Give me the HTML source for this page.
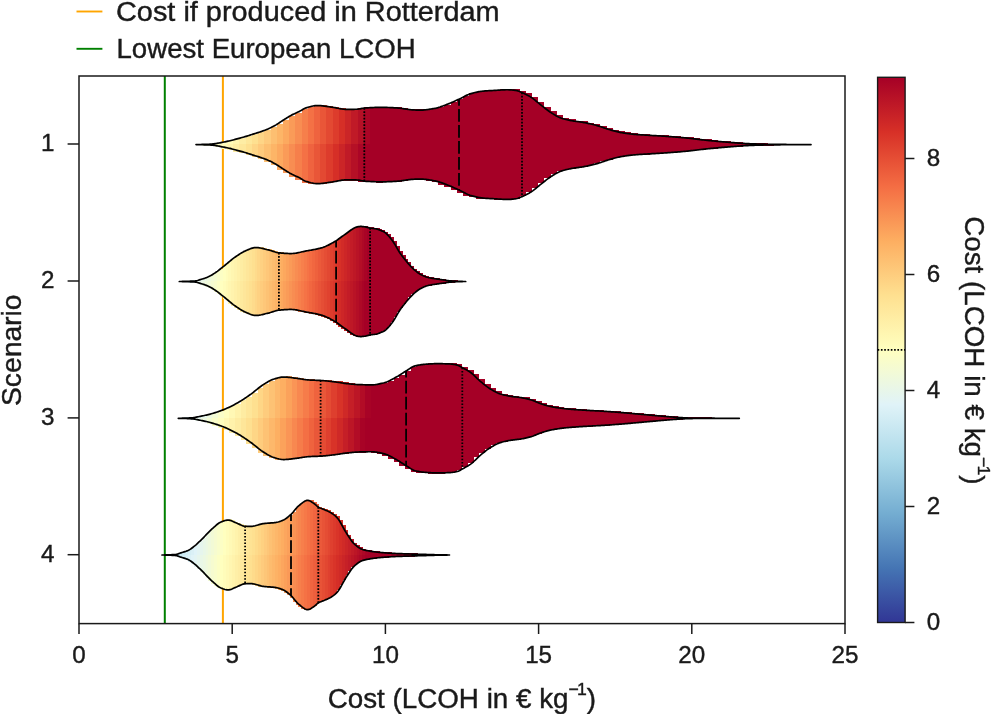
<!DOCTYPE html>
<html lang="en"><head><meta charset="utf-8"><title>LCOH violin plot</title>
<style>html,body{margin:0;padding:0;background:#fff}svg{display:block}text{font-family:"Liberation Sans",Arial,sans-serif;fill:#1a1a1a}text{stroke:#1a1a1a;stroke-width:.4px}.lab{font-size:26.8px}.tk{font-size:24.2px}</style></head><body>
<svg width="991" height="714" viewBox="0 0 991 714">
<rect width="991" height="714" fill="#fff"/>
<defs><linearGradient id="cb" x1="0" y1="1" x2="0" y2="0">
<stop offset="0%" stop-color="#313695"/>
<stop offset="10%" stop-color="#4575b4"/>
<stop offset="20%" stop-color="#74add1"/>
<stop offset="30%" stop-color="#abd9e9"/>
<stop offset="40%" stop-color="#e0f3f8"/>
<stop offset="50%" stop-color="#ffffbf"/>
<stop offset="60%" stop-color="#fee090"/>
<stop offset="70%" stop-color="#fdae61"/>
<stop offset="80%" stop-color="#f46d43"/>
<stop offset="90%" stop-color="#d73027"/>
<stop offset="100%" stop-color="#a50026"/>
</linearGradient></defs>
<line x1="222.9" y1="76.0" x2="222.9" y2="623.6" stroke="#ffa500" stroke-width="2"/>
<line x1="164.8" y1="76.0" x2="164.8" y2="623.6" stroke="#008000" stroke-width="2"/>
<g shape-rendering="crispEdges">
<rect x="202.21" y="143.75" width="6.81" height="0.25" fill="#e9f6e8"/>
<rect x="208.42" y="143.57" width="6.81" height="0.43" fill="#eff9dc"/>
<rect x="214.64" y="143.02" width="6.81" height="0.98" fill="#f6fcd0"/>
<rect x="220.85" y="141.94" width="6.81" height="2.06" fill="#fdfec3"/>
<rect x="227.06" y="140.70" width="6.81" height="3.30" fill="#fffbb8"/>
<rect x="233.27" y="139.21" width="6.81" height="4.79" fill="#fff4ae"/>
<rect x="239.48" y="137.51" width="6.81" height="6.49" fill="#feeda4"/>
<rect x="245.70" y="135.78" width="6.81" height="8.22" fill="#fee79a"/>
<rect x="251.91" y="133.78" width="6.81" height="10.22" fill="#fee090"/>
<rect x="258.12" y="131.84" width="6.81" height="12.16" fill="#fed586"/>
<rect x="264.33" y="129.73" width="6.81" height="14.27" fill="#feca7c"/>
<rect x="270.55" y="127.12" width="6.81" height="16.88" fill="#fdbf71"/>
<rect x="276.76" y="123.72" width="6.81" height="20.28" fill="#fdb567"/>
<rect x="282.97" y="119.64" width="6.81" height="24.36" fill="#fca95f"/>
<rect x="289.18" y="115.75" width="6.81" height="28.25" fill="#fa9b58"/>
<rect x="295.39" y="112.58" width="6.81" height="31.42" fill="#f88d52"/>
<rect x="301.61" y="109.46" width="6.81" height="34.54" fill="#f67f4b"/>
<rect x="307.82" y="106.63" width="6.81" height="37.37" fill="#f47145"/>
<rect x="314.03" y="105.13" width="6.81" height="38.87" fill="#ef633f"/>
<rect x="320.24" y="104.95" width="6.81" height="39.05" fill="#e95638"/>
<rect x="326.45" y="105.68" width="6.81" height="38.32" fill="#e34932"/>
<rect x="332.67" y="106.57" width="6.81" height="37.43" fill="#dd3c2c"/>
<rect x="338.88" y="107.75" width="6.81" height="36.25" fill="#d62f27"/>
<rect x="345.09" y="108.61" width="6.81" height="35.39" fill="#cb2527"/>
<rect x="351.30" y="108.62" width="6.81" height="35.38" fill="#c01a27"/>
<rect x="357.52" y="108.47" width="6.81" height="35.53" fill="#b51026"/>
<rect x="363.73" y="107.44" width="6.81" height="36.56" fill="#ab0526"/>
<rect x="369.94" y="107.00" width="6.81" height="37.00" fill="#a50026"/>
<rect x="376.15" y="106.74" width="6.81" height="37.26" fill="#a50026"/>
<rect x="382.36" y="106.65" width="6.81" height="37.35" fill="#a50026"/>
<rect x="388.58" y="106.80" width="6.81" height="37.20" fill="#a50026"/>
<rect x="394.79" y="107.12" width="6.81" height="36.88" fill="#a50026"/>
<rect x="401.00" y="107.66" width="6.81" height="36.34" fill="#a50026"/>
<rect x="407.21" y="108.59" width="6.81" height="35.41" fill="#a50026"/>
<rect x="413.42" y="109.20" width="6.81" height="34.80" fill="#a50026"/>
<rect x="419.64" y="109.45" width="6.81" height="34.55" fill="#a50026"/>
<rect x="425.85" y="109.08" width="6.81" height="34.92" fill="#a50026"/>
<rect x="432.06" y="108.13" width="6.81" height="35.87" fill="#a50026"/>
<rect x="438.27" y="106.83" width="6.81" height="37.17" fill="#a50026"/>
<rect x="444.48" y="104.68" width="6.81" height="39.32" fill="#a50026"/>
<rect x="450.70" y="102.24" width="6.81" height="41.76" fill="#a50026"/>
<rect x="456.91" y="99.44" width="6.81" height="44.56" fill="#a50026"/>
<rect x="463.12" y="96.41" width="6.81" height="47.59" fill="#a50026"/>
<rect x="469.33" y="93.45" width="6.81" height="50.55" fill="#a50026"/>
<rect x="475.55" y="91.72" width="6.81" height="52.28" fill="#a50026"/>
<rect x="481.76" y="90.57" width="6.81" height="53.43" fill="#a50026"/>
<rect x="487.97" y="90.06" width="6.81" height="53.94" fill="#a50026"/>
<rect x="494.18" y="89.73" width="6.81" height="54.27" fill="#a50026"/>
<rect x="500.39" y="89.33" width="6.81" height="54.67" fill="#a50026"/>
<rect x="506.61" y="89.05" width="6.81" height="54.95" fill="#a50026"/>
<rect x="512.82" y="89.38" width="6.81" height="54.62" fill="#a50026"/>
<rect x="519.03" y="90.63" width="6.81" height="53.37" fill="#a50026"/>
<rect x="525.24" y="93.36" width="6.81" height="50.64" fill="#a50026"/>
<rect x="531.45" y="96.84" width="6.81" height="47.16" fill="#a50026"/>
<rect x="537.67" y="101.66" width="6.81" height="42.34" fill="#a50026"/>
<rect x="543.88" y="106.63" width="6.81" height="37.37" fill="#a50026"/>
<rect x="550.09" y="111.33" width="6.81" height="32.67" fill="#a50026"/>
<rect x="556.30" y="115.14" width="6.81" height="28.86" fill="#a50026"/>
<rect x="562.52" y="117.84" width="6.81" height="26.16" fill="#a50026"/>
<rect x="568.73" y="119.42" width="6.81" height="24.58" fill="#a50026"/>
<rect x="574.94" y="120.53" width="6.81" height="23.47" fill="#a50026"/>
<rect x="581.15" y="121.39" width="6.81" height="22.61" fill="#a50026"/>
<rect x="587.36" y="122.51" width="6.81" height="21.49" fill="#a50026"/>
<rect x="593.58" y="123.96" width="6.81" height="20.04" fill="#a50026"/>
<rect x="599.79" y="125.71" width="6.81" height="18.29" fill="#a50026"/>
<rect x="606.00" y="127.85" width="6.81" height="16.15" fill="#a50026"/>
<rect x="612.21" y="129.70" width="6.81" height="14.30" fill="#a50026"/>
<rect x="618.42" y="131.32" width="6.81" height="12.68" fill="#a50026"/>
<rect x="624.64" y="132.46" width="6.81" height="11.54" fill="#a50026"/>
<rect x="630.85" y="133.28" width="6.81" height="10.72" fill="#a50026"/>
<rect x="637.06" y="133.86" width="6.81" height="10.14" fill="#a50026"/>
<rect x="643.27" y="134.26" width="6.81" height="9.74" fill="#a50026"/>
<rect x="649.48" y="134.63" width="6.81" height="9.37" fill="#a50026"/>
<rect x="655.70" y="134.99" width="6.81" height="9.01" fill="#a50026"/>
<rect x="661.91" y="135.36" width="6.81" height="8.64" fill="#a50026"/>
<rect x="668.12" y="135.79" width="6.81" height="8.21" fill="#a50026"/>
<rect x="674.33" y="136.25" width="6.81" height="7.75" fill="#a50026"/>
<rect x="680.55" y="136.76" width="6.81" height="7.24" fill="#a50026"/>
<rect x="686.76" y="137.33" width="6.81" height="6.67" fill="#a50026"/>
<rect x="692.97" y="138.02" width="6.81" height="5.98" fill="#a50026"/>
<rect x="699.18" y="138.76" width="6.81" height="5.24" fill="#a50026"/>
<rect x="705.39" y="139.47" width="6.81" height="4.53" fill="#a50026"/>
<rect x="711.61" y="140.09" width="6.81" height="3.91" fill="#a50026"/>
<rect x="717.82" y="140.68" width="6.81" height="3.32" fill="#a50026"/>
<rect x="724.03" y="141.23" width="6.81" height="2.77" fill="#a50026"/>
<rect x="730.24" y="141.72" width="6.81" height="2.28" fill="#a50026"/>
<rect x="736.45" y="142.21" width="6.81" height="1.79" fill="#a50026"/>
<rect x="742.67" y="142.66" width="6.81" height="1.34" fill="#a50026"/>
<rect x="748.88" y="143.01" width="6.81" height="0.99" fill="#a50026"/>
<rect x="755.09" y="143.24" width="6.81" height="0.76" fill="#a50026"/>
<rect x="761.30" y="143.42" width="6.81" height="0.58" fill="#a50026"/>
<rect x="767.52" y="143.56" width="6.81" height="0.44" fill="#a50026"/>
<rect x="773.73" y="143.66" width="6.81" height="0.34" fill="#a50026"/>
<rect x="779.94" y="143.72" width="6.81" height="0.28" fill="#a50026"/>
<rect x="786.15" y="143.77" width="6.81" height="0.23" fill="#a50026"/>
<rect x="792.36" y="143.81" width="6.81" height="0.19" fill="#a50026"/>
<rect x="196.00" y="144.00" width="6.81" height="1.45" fill="#e9f6e8"/>
<rect x="202.21" y="144.00" width="6.81" height="1.63" fill="#eff9dc"/>
<rect x="208.42" y="144.00" width="6.81" height="2.18" fill="#f6fcd0"/>
<rect x="214.64" y="144.00" width="6.81" height="3.26" fill="#fdfec3"/>
<rect x="220.85" y="144.00" width="6.81" height="4.50" fill="#fffbb8"/>
<rect x="227.06" y="144.00" width="6.81" height="5.99" fill="#fff4ae"/>
<rect x="233.27" y="144.00" width="6.81" height="7.69" fill="#feeda4"/>
<rect x="239.48" y="144.00" width="6.81" height="9.42" fill="#fee79a"/>
<rect x="245.70" y="144.00" width="6.81" height="11.42" fill="#fee090"/>
<rect x="251.91" y="144.00" width="6.81" height="13.36" fill="#fed586"/>
<rect x="258.12" y="144.00" width="6.81" height="15.47" fill="#feca7c"/>
<rect x="264.33" y="144.00" width="6.81" height="18.08" fill="#fdbf71"/>
<rect x="270.55" y="144.00" width="6.81" height="21.48" fill="#fdb567"/>
<rect x="276.76" y="144.00" width="6.81" height="25.56" fill="#fca95f"/>
<rect x="282.97" y="144.00" width="6.81" height="29.45" fill="#fa9b58"/>
<rect x="289.18" y="144.00" width="6.81" height="32.62" fill="#f88d52"/>
<rect x="295.39" y="144.00" width="6.81" height="35.74" fill="#f67f4b"/>
<rect x="301.61" y="144.00" width="6.81" height="38.57" fill="#f47145"/>
<rect x="307.82" y="144.00" width="6.81" height="40.07" fill="#ef633f"/>
<rect x="314.03" y="144.00" width="6.81" height="40.25" fill="#e95638"/>
<rect x="320.24" y="144.00" width="6.81" height="39.52" fill="#e34932"/>
<rect x="326.45" y="144.00" width="6.81" height="38.63" fill="#dd3c2c"/>
<rect x="332.67" y="144.00" width="6.81" height="37.45" fill="#d62f27"/>
<rect x="338.88" y="144.00" width="6.81" height="36.59" fill="#cb2527"/>
<rect x="345.09" y="144.00" width="6.81" height="36.58" fill="#c01a27"/>
<rect x="351.30" y="144.00" width="6.81" height="36.73" fill="#b51026"/>
<rect x="357.52" y="144.00" width="6.81" height="37.76" fill="#ab0526"/>
<rect x="363.73" y="144.00" width="6.81" height="38.20" fill="#a50026"/>
<rect x="369.94" y="144.00" width="6.81" height="38.46" fill="#a50026"/>
<rect x="376.15" y="144.00" width="6.81" height="38.55" fill="#a50026"/>
<rect x="382.36" y="144.00" width="6.81" height="38.40" fill="#a50026"/>
<rect x="388.58" y="144.00" width="6.81" height="38.08" fill="#a50026"/>
<rect x="394.79" y="144.00" width="6.81" height="37.54" fill="#a50026"/>
<rect x="401.00" y="144.00" width="6.81" height="36.61" fill="#a50026"/>
<rect x="407.21" y="144.00" width="6.81" height="36.00" fill="#a50026"/>
<rect x="413.42" y="144.00" width="6.81" height="35.75" fill="#a50026"/>
<rect x="419.64" y="144.00" width="6.81" height="36.12" fill="#a50026"/>
<rect x="425.85" y="144.00" width="6.81" height="37.07" fill="#a50026"/>
<rect x="432.06" y="144.00" width="6.81" height="38.37" fill="#a50026"/>
<rect x="438.27" y="144.00" width="6.81" height="40.52" fill="#a50026"/>
<rect x="444.48" y="144.00" width="6.81" height="42.96" fill="#a50026"/>
<rect x="450.70" y="144.00" width="6.81" height="45.76" fill="#a50026"/>
<rect x="456.91" y="144.00" width="6.81" height="48.79" fill="#a50026"/>
<rect x="463.12" y="144.00" width="6.81" height="51.75" fill="#a50026"/>
<rect x="469.33" y="144.00" width="6.81" height="53.48" fill="#a50026"/>
<rect x="475.55" y="144.00" width="6.81" height="54.63" fill="#a50026"/>
<rect x="481.76" y="144.00" width="6.81" height="55.14" fill="#a50026"/>
<rect x="487.97" y="144.00" width="6.81" height="55.47" fill="#a50026"/>
<rect x="494.18" y="144.00" width="6.81" height="55.87" fill="#a50026"/>
<rect x="500.39" y="144.00" width="6.81" height="56.15" fill="#a50026"/>
<rect x="506.61" y="144.00" width="6.81" height="55.82" fill="#a50026"/>
<rect x="512.82" y="144.00" width="6.81" height="54.57" fill="#a50026"/>
<rect x="519.03" y="144.00" width="6.81" height="51.84" fill="#a50026"/>
<rect x="525.24" y="144.00" width="6.81" height="48.36" fill="#a50026"/>
<rect x="531.45" y="144.00" width="6.81" height="43.54" fill="#a50026"/>
<rect x="537.67" y="144.00" width="6.81" height="38.57" fill="#a50026"/>
<rect x="543.88" y="144.00" width="6.81" height="33.87" fill="#a50026"/>
<rect x="550.09" y="144.00" width="6.81" height="30.06" fill="#a50026"/>
<rect x="556.30" y="144.00" width="6.81" height="27.36" fill="#a50026"/>
<rect x="562.52" y="144.00" width="6.81" height="25.78" fill="#a50026"/>
<rect x="568.73" y="144.00" width="6.81" height="24.67" fill="#a50026"/>
<rect x="574.94" y="144.00" width="6.81" height="23.81" fill="#a50026"/>
<rect x="581.15" y="144.00" width="6.81" height="22.69" fill="#a50026"/>
<rect x="587.36" y="144.00" width="6.81" height="21.24" fill="#a50026"/>
<rect x="593.58" y="144.00" width="6.81" height="19.49" fill="#a50026"/>
<rect x="599.79" y="144.00" width="6.81" height="17.35" fill="#a50026"/>
<rect x="606.00" y="144.00" width="6.81" height="15.50" fill="#a50026"/>
<rect x="612.21" y="144.00" width="6.81" height="13.88" fill="#a50026"/>
<rect x="618.42" y="144.00" width="6.81" height="12.74" fill="#a50026"/>
<rect x="624.64" y="144.00" width="6.81" height="11.92" fill="#a50026"/>
<rect x="630.85" y="144.00" width="6.81" height="11.34" fill="#a50026"/>
<rect x="637.06" y="144.00" width="6.81" height="10.94" fill="#a50026"/>
<rect x="643.27" y="144.00" width="6.81" height="10.57" fill="#a50026"/>
<rect x="649.48" y="144.00" width="6.81" height="10.21" fill="#a50026"/>
<rect x="655.70" y="144.00" width="6.81" height="9.84" fill="#a50026"/>
<rect x="661.91" y="144.00" width="6.81" height="9.41" fill="#a50026"/>
<rect x="668.12" y="144.00" width="6.81" height="8.95" fill="#a50026"/>
<rect x="674.33" y="144.00" width="6.81" height="8.44" fill="#a50026"/>
<rect x="680.55" y="144.00" width="6.81" height="7.87" fill="#a50026"/>
<rect x="686.76" y="144.00" width="6.81" height="7.18" fill="#a50026"/>
<rect x="692.97" y="144.00" width="6.81" height="6.44" fill="#a50026"/>
<rect x="699.18" y="144.00" width="6.81" height="5.73" fill="#a50026"/>
<rect x="705.39" y="144.00" width="6.81" height="5.11" fill="#a50026"/>
<rect x="711.61" y="144.00" width="6.81" height="4.52" fill="#a50026"/>
<rect x="717.82" y="144.00" width="6.81" height="3.97" fill="#a50026"/>
<rect x="724.03" y="144.00" width="6.81" height="3.48" fill="#a50026"/>
<rect x="730.24" y="144.00" width="6.81" height="2.99" fill="#a50026"/>
<rect x="736.45" y="144.00" width="6.81" height="2.54" fill="#a50026"/>
<rect x="742.67" y="144.00" width="6.81" height="2.19" fill="#a50026"/>
<rect x="748.88" y="144.00" width="6.81" height="1.96" fill="#a50026"/>
<rect x="755.09" y="144.00" width="6.81" height="1.78" fill="#a50026"/>
<rect x="761.30" y="144.00" width="6.81" height="1.64" fill="#a50026"/>
<rect x="767.52" y="144.00" width="6.81" height="1.54" fill="#a50026"/>
<rect x="773.73" y="144.00" width="6.81" height="1.48" fill="#a50026"/>
<rect x="779.94" y="144.00" width="6.81" height="1.43" fill="#a50026"/>
<rect x="786.15" y="144.00" width="6.81" height="1.39" fill="#a50026"/>
</g>
<path d="M196.0,144.60 197.0,144.58 198.0,144.56 199.0,144.53 200.0,144.51 201.0,144.48 202.0,144.46 203.0,144.43 204.0,144.40 205.0,144.37 206.0,144.35 207.0,144.32 208.0,144.29 209.0,144.25 210.0,144.20 211.0,144.13 212.0,144.04 213.0,143.92 214.0,143.80 215.0,143.67 216.0,143.52 217.0,143.35 218.0,143.18 219.0,142.99 220.0,142.80 221.0,142.61 222.0,142.41 223.0,142.22 224.0,142.03 225.0,141.83 226.0,141.63 227.0,141.42 228.0,141.20 229.0,140.98 230.0,140.75 231.0,140.51 232.0,140.25 233.0,139.98 234.0,139.71 235.0,139.43 236.0,139.15 237.0,138.88 238.0,138.60 239.0,138.34 240.0,138.07 241.0,137.80 242.0,137.53 243.0,137.26 244.0,136.98 245.0,136.69 246.0,136.39 247.0,136.08 248.0,135.76 249.0,135.44 250.0,135.11 251.0,134.78 252.0,134.45 253.0,134.13 254.0,133.82 255.0,133.51 256.0,133.20 257.0,132.89 258.0,132.58 259.0,132.27 260.0,131.94 261.0,131.60 262.0,131.26 263.0,130.91 264.0,130.55 265.0,130.18 266.0,129.80 267.0,129.41 268.0,128.99 269.0,128.55 270.0,128.09 271.0,127.60 272.0,127.08 273.0,126.55 274.0,126.00 275.0,125.44 276.0,124.87 277.0,124.27 278.0,123.65 279.0,123.00 280.0,122.33 281.0,121.66 282.0,120.98 283.0,120.33 284.0,119.69 285.0,119.06 286.0,118.42 287.0,117.79 288.0,117.17 289.0,116.56 290.0,115.97 291.0,115.41 292.0,114.87 293.0,114.38 294.0,113.91 295.0,113.45 296.0,113.01 297.0,112.56 298.0,112.10 299.0,111.62 300.0,111.11 301.0,110.53 302.0,109.92 303.0,109.31 304.0,108.75 305.0,108.26 306.0,107.87 307.0,107.57 308.0,107.27 309.0,106.98 310.0,106.71 311.0,106.45 312.0,106.22 313.0,106.01 314.0,105.84 315.0,105.70 316.0,105.61 317.0,105.56 318.0,105.55 319.0,105.58 320.0,105.63 321.0,105.71 322.0,105.80 323.0,105.91 324.0,106.04 325.0,106.17 326.0,106.32 327.0,106.46 328.0,106.61 329.0,106.76 330.0,106.90 331.0,107.04 332.0,107.17 333.0,107.32 334.0,107.49 335.0,107.68 336.0,107.87 337.0,108.07 338.0,108.27 339.0,108.47 340.0,108.66 341.0,108.83 342.0,108.99 343.0,109.12 344.0,109.23 345.0,109.30 346.0,109.34 347.0,109.35 348.0,109.35 349.0,109.34 350.0,109.33 351.0,109.32 352.0,109.31 353.0,109.29 354.0,109.28 355.0,109.26 356.0,109.24 357.0,109.21 358.0,109.12 359.0,108.99 360.0,108.82 361.0,108.63 362.0,108.44 363.0,108.26 364.0,108.10 365.0,107.99 366.0,107.92 367.0,107.86 368.0,107.80 369.0,107.75 370.0,107.69 371.0,107.64 372.0,107.59 373.0,107.55 374.0,107.51 375.0,107.47 376.0,107.44 377.0,107.41 378.0,107.39 379.0,107.37 380.0,107.36 381.0,107.35 382.0,107.35 383.0,107.36 384.0,107.37 385.0,107.39 386.0,107.41 387.0,107.44 388.0,107.48 389.0,107.52 390.0,107.56 391.0,107.61 392.0,107.66 393.0,107.72 394.0,107.78 395.0,107.83 396.0,107.89 397.0,107.95 398.0,108.03 399.0,108.12 400.0,108.23 401.0,108.36 402.0,108.50 403.0,108.65 404.0,108.80 405.0,108.96 406.0,109.11 407.0,109.26 408.0,109.40 409.0,109.53 410.0,109.64 411.0,109.74 412.0,109.81 413.0,109.87 414.0,109.93 415.0,109.99 416.0,110.04 417.0,110.08 418.0,110.12 419.0,110.14 420.0,110.15 421.0,110.14 422.0,110.10 423.0,110.05 424.0,109.97 425.0,109.87 426.0,109.76 427.0,109.64 428.0,109.50 429.0,109.35 430.0,109.19 431.0,109.02 432.0,108.84 433.0,108.66 434.0,108.48 435.0,108.30 436.0,108.10 437.0,107.87 438.0,107.61 439.0,107.31 440.0,107.00 441.0,106.66 442.0,106.31 443.0,105.94 444.0,105.56 445.0,105.18 446.0,104.79 447.0,104.41 448.0,104.03 449.0,103.64 450.0,103.23 451.0,102.81 452.0,102.38 453.0,101.93 454.0,101.48 455.0,101.02 456.0,100.56 457.0,100.10 458.0,99.64 459.0,99.18 460.0,98.71 461.0,98.22 462.0,97.70 463.0,97.17 464.0,96.64 465.0,96.12 466.0,95.61 467.0,95.13 468.0,94.68 469.0,94.28 470.0,93.92 471.0,93.62 472.0,93.34 473.0,93.07 474.0,92.80 475.0,92.55 476.0,92.31 477.0,92.09 478.0,91.88 479.0,91.69 480.0,91.52 481.0,91.37 482.0,91.24 483.0,91.13 484.0,91.04 485.0,90.96 486.0,90.88 487.0,90.82 488.0,90.75 489.0,90.70 490.0,90.64 491.0,90.59 492.0,90.54 493.0,90.49 494.0,90.44 495.0,90.39 496.0,90.33 497.0,90.27 498.0,90.20 499.0,90.13 500.0,90.06 501.0,89.99 502.0,89.93 503.0,89.87 504.0,89.82 505.0,89.78 506.0,89.76 507.0,89.75 508.0,89.76 509.0,89.79 510.0,89.84 511.0,89.91 512.0,90.00 513.0,90.10 514.0,90.21 515.0,90.33 516.0,90.46 517.0,90.66 518.0,90.95 519.0,91.32 520.0,91.73 521.0,92.16 522.0,92.60 523.0,93.02 524.0,93.47 525.0,93.94 526.0,94.43 527.0,94.95 528.0,95.49 529.0,96.05 530.0,96.64 531.0,97.25 532.0,97.90 533.0,98.61 534.0,99.37 535.0,100.16 536.0,100.97 537.0,101.81 538.0,102.64 539.0,103.47 540.0,104.29 541.0,105.07 542.0,105.85 543.0,106.63 544.0,107.43 545.0,108.22 546.0,109.01 547.0,109.79 548.0,110.54 549.0,111.27 550.0,111.97 551.0,112.62 552.0,113.25 553.0,113.87 554.0,114.49 555.0,115.09 556.0,115.67 557.0,116.22 558.0,116.74 559.0,117.23 560.0,117.66 561.0,118.05 562.0,118.38 563.0,118.69 564.0,118.98 565.0,119.25 566.0,119.50 567.0,119.74 568.0,119.96 569.0,120.18 570.0,120.38 571.0,120.57 572.0,120.76 573.0,120.93 574.0,121.09 575.0,121.24 576.0,121.38 577.0,121.52 578.0,121.65 579.0,121.78 580.0,121.92 581.0,122.06 582.0,122.21 583.0,122.38 584.0,122.55 585.0,122.74 586.0,122.93 587.0,123.14 588.0,123.35 589.0,123.57 590.0,123.79 591.0,124.03 592.0,124.27 593.0,124.51 594.0,124.77 595.0,125.03 596.0,125.29 597.0,125.56 598.0,125.85 599.0,126.16 600.0,126.48 601.0,126.82 602.0,127.17 603.0,127.51 604.0,127.86 605.0,128.21 606.0,128.55 607.0,128.88 608.0,129.20 609.0,129.49 610.0,129.78 611.0,130.06 612.0,130.34 613.0,130.62 614.0,130.90 615.0,131.17 616.0,131.43 617.0,131.68 618.0,131.92 619.0,132.15 620.0,132.36 621.0,132.55 622.0,132.73 623.0,132.90 624.0,133.06 625.0,133.21 626.0,133.36 627.0,133.50 628.0,133.64 629.0,133.77 630.0,133.89 631.0,134.00 632.0,134.11 633.0,134.21 634.0,134.30 635.0,134.39 636.0,134.47 637.0,134.55 638.0,134.62 639.0,134.69 640.0,134.76 641.0,134.82 642.0,134.88 643.0,134.94 644.0,135.00 645.0,135.06 646.0,135.12 647.0,135.18 648.0,135.24 649.0,135.30 650.0,135.36 651.0,135.42 652.0,135.48 653.0,135.53 654.0,135.59 655.0,135.65 656.0,135.70 657.0,135.76 658.0,135.82 659.0,135.88 660.0,135.94 661.0,136.00 662.0,136.07 663.0,136.14 664.0,136.20 665.0,136.27 666.0,136.34 667.0,136.41 668.0,136.48 669.0,136.55 670.0,136.63 671.0,136.70 672.0,136.77 673.0,136.85 674.0,136.93 675.0,137.00 676.0,137.08 677.0,137.16 678.0,137.25 679.0,137.33 680.0,137.41 681.0,137.50 682.0,137.59 683.0,137.68 684.0,137.77 685.0,137.86 686.0,137.95 687.0,138.05 688.0,138.16 689.0,138.27 690.0,138.38 691.0,138.49 692.0,138.61 693.0,138.72 694.0,138.84 695.0,138.96 696.0,139.08 697.0,139.20 698.0,139.32 699.0,139.44 700.0,139.56 701.0,139.68 702.0,139.79 703.0,139.90 704.0,140.02 705.0,140.12 706.0,140.23 707.0,140.33 708.0,140.43 709.0,140.53 710.0,140.63 711.0,140.73 712.0,140.82 713.0,140.92 714.0,141.02 715.0,141.11 716.0,141.21 717.0,141.30 718.0,141.39 719.0,141.48 720.0,141.57 721.0,141.66 722.0,141.75 723.0,141.84 724.0,141.92 725.0,142.01 726.0,142.09 727.0,142.17 728.0,142.25 729.0,142.33 730.0,142.41 731.0,142.48 732.0,142.56 733.0,142.64 734.0,142.72 735.0,142.80 736.0,142.88 737.0,142.95 738.0,143.03 739.0,143.10 740.0,143.18 741.0,143.25 742.0,143.32 743.0,143.38 744.0,143.45 745.0,143.51 746.0,143.57 747.0,143.62 748.0,143.67 749.0,143.72 750.0,143.76 751.0,143.80 752.0,143.84 753.0,143.87 754.0,143.90 755.0,143.94 756.0,143.97 757.0,144.00 758.0,144.03 759.0,144.06 760.0,144.09 761.0,144.11 762.0,144.14 763.0,144.16 764.0,144.19 765.0,144.21 766.0,144.23 767.0,144.25 768.0,144.27 769.0,144.29 770.0,144.30 771.0,144.32 772.0,144.33 773.0,144.35 774.0,144.36 775.0,144.37 776.0,144.38 777.0,144.39 778.0,144.41 779.0,144.42 780.0,144.42 781.0,144.43 782.0,144.44 783.0,144.45 784.0,144.46 785.0,144.47 786.0,144.47 787.0,144.48 788.0,144.49 789.0,144.49 790.0,144.50 791.0,144.51 792.0,144.51 793.0,144.52 794.0,144.52 795.0,144.53 796.0,144.54 797.0,144.54 798.0,144.55 799.0,144.55 800.0,144.56 801.0,144.56 802.0,144.57 803.0,144.57 804.0,144.58 805.0,144.58 806.0,144.58 807.0,144.59 808.0,144.59 809.0,144.59 810.0,144.60 811.0,144.60 L811.0,144.60 810.0,144.60 809.0,144.61 808.0,144.61 807.0,144.61 806.0,144.62 805.0,144.62 804.0,144.62 803.0,144.63 802.0,144.63 801.0,144.64 800.0,144.64 799.0,144.65 798.0,144.65 797.0,144.66 796.0,144.66 795.0,144.67 794.0,144.68 793.0,144.68 792.0,144.69 791.0,144.69 790.0,144.70 789.0,144.71 788.0,144.71 787.0,144.72 786.0,144.73 785.0,144.73 784.0,144.74 783.0,144.75 782.0,144.76 781.0,144.77 780.0,144.78 779.0,144.78 778.0,144.79 777.0,144.81 776.0,144.82 775.0,144.83 774.0,144.84 773.0,144.85 772.0,144.87 771.0,144.88 770.0,144.90 769.0,144.91 768.0,144.93 767.0,144.95 766.0,144.97 765.0,144.99 764.0,145.01 763.0,145.04 762.0,145.06 761.0,145.09 760.0,145.11 759.0,145.14 758.0,145.17 757.0,145.20 756.0,145.23 755.0,145.26 754.0,145.30 753.0,145.33 752.0,145.36 751.0,145.40 750.0,145.44 749.0,145.48 748.0,145.53 747.0,145.58 746.0,145.63 745.0,145.69 744.0,145.75 743.0,145.82 742.0,145.88 741.0,145.95 740.0,146.02 739.0,146.10 738.0,146.17 737.0,146.25 736.0,146.32 735.0,146.40 734.0,146.48 733.0,146.56 732.0,146.64 731.0,146.72 730.0,146.79 729.0,146.87 728.0,146.95 727.0,147.03 726.0,147.11 725.0,147.19 724.0,147.28 723.0,147.36 722.0,147.45 721.0,147.54 720.0,147.63 719.0,147.72 718.0,147.81 717.0,147.90 716.0,147.99 715.0,148.09 714.0,148.18 713.0,148.28 712.0,148.38 711.0,148.47 710.0,148.57 709.0,148.67 708.0,148.77 707.0,148.87 706.0,148.97 705.0,149.08 704.0,149.18 703.0,149.30 702.0,149.41 701.0,149.52 700.0,149.64 699.0,149.76 698.0,149.88 697.0,150.00 696.0,150.12 695.0,150.24 694.0,150.36 693.0,150.48 692.0,150.59 691.0,150.71 690.0,150.82 689.0,150.93 688.0,151.04 687.0,151.15 686.0,151.25 685.0,151.34 684.0,151.43 683.0,151.52 682.0,151.61 681.0,151.70 680.0,151.79 679.0,151.87 678.0,151.95 677.0,152.04 676.0,152.12 675.0,152.20 674.0,152.27 673.0,152.35 672.0,152.43 671.0,152.50 670.0,152.57 669.0,152.65 668.0,152.72 667.0,152.79 666.0,152.86 665.0,152.93 664.0,153.00 663.0,153.06 662.0,153.13 661.0,153.20 660.0,153.26 659.0,153.32 658.0,153.38 657.0,153.44 656.0,153.50 655.0,153.55 654.0,153.61 653.0,153.67 652.0,153.72 651.0,153.78 650.0,153.84 649.0,153.90 648.0,153.96 647.0,154.02 646.0,154.08 645.0,154.14 644.0,154.20 643.0,154.26 642.0,154.32 641.0,154.38 640.0,154.44 639.0,154.51 638.0,154.58 637.0,154.65 636.0,154.73 635.0,154.81 634.0,154.90 633.0,154.99 632.0,155.09 631.0,155.20 630.0,155.31 629.0,155.43 628.0,155.56 627.0,155.70 626.0,155.84 625.0,155.99 624.0,156.14 623.0,156.30 622.0,156.47 621.0,156.65 620.0,156.84 619.0,157.05 618.0,157.28 617.0,157.52 616.0,157.77 615.0,158.03 614.0,158.30 613.0,158.58 612.0,158.86 611.0,159.14 610.0,159.42 609.0,159.71 608.0,160.00 607.0,160.32 606.0,160.65 605.0,160.99 604.0,161.34 603.0,161.69 602.0,162.03 601.0,162.38 600.0,162.72 599.0,163.04 598.0,163.35 597.0,163.64 596.0,163.91 595.0,164.17 594.0,164.43 593.0,164.69 592.0,164.93 591.0,165.17 590.0,165.41 589.0,165.63 588.0,165.85 587.0,166.06 586.0,166.27 585.0,166.46 584.0,166.65 583.0,166.82 582.0,166.99 581.0,167.14 580.0,167.28 579.0,167.42 578.0,167.55 577.0,167.68 576.0,167.82 575.0,167.96 574.0,168.11 573.0,168.27 572.0,168.44 571.0,168.63 570.0,168.82 569.0,169.02 568.0,169.24 567.0,169.46 566.0,169.70 565.0,169.95 564.0,170.22 563.0,170.51 562.0,170.82 561.0,171.15 560.0,171.54 559.0,171.97 558.0,172.46 557.0,172.98 556.0,173.53 555.0,174.11 554.0,174.71 553.0,175.33 552.0,175.95 551.0,176.58 550.0,177.23 549.0,177.93 548.0,178.66 547.0,179.41 546.0,180.19 545.0,180.98 544.0,181.77 543.0,182.57 542.0,183.35 541.0,184.13 540.0,184.91 539.0,185.73 538.0,186.56 537.0,187.39 536.0,188.23 535.0,189.04 534.0,189.83 533.0,190.59 532.0,191.30 531.0,191.95 530.0,192.56 529.0,193.15 528.0,193.71 527.0,194.25 526.0,194.77 525.0,195.26 524.0,195.73 523.0,196.18 522.0,196.60 521.0,197.04 520.0,197.47 519.0,197.88 518.0,198.25 517.0,198.54 516.0,198.74 515.0,198.87 514.0,198.99 513.0,199.10 512.0,199.20 511.0,199.29 510.0,199.36 509.0,199.41 508.0,199.44 507.0,199.45 506.0,199.44 505.0,199.42 504.0,199.38 503.0,199.33 502.0,199.27 501.0,199.21 500.0,199.14 499.0,199.07 498.0,199.00 497.0,198.93 496.0,198.87 495.0,198.81 494.0,198.76 493.0,198.71 492.0,198.66 491.0,198.61 490.0,198.56 489.0,198.50 488.0,198.45 487.0,198.38 486.0,198.32 485.0,198.24 484.0,198.16 483.0,198.07 482.0,197.96 481.0,197.83 480.0,197.68 479.0,197.51 478.0,197.32 477.0,197.11 476.0,196.89 475.0,196.65 474.0,196.40 473.0,196.13 472.0,195.86 471.0,195.58 470.0,195.28 469.0,194.92 468.0,194.52 467.0,194.07 466.0,193.59 465.0,193.08 464.0,192.56 463.0,192.03 462.0,191.50 461.0,190.98 460.0,190.49 459.0,190.02 458.0,189.56 457.0,189.10 456.0,188.64 455.0,188.18 454.0,187.72 453.0,187.27 452.0,186.82 451.0,186.39 450.0,185.97 449.0,185.56 448.0,185.17 447.0,184.79 446.0,184.41 445.0,184.02 444.0,183.64 443.0,183.26 442.0,182.89 441.0,182.54 440.0,182.20 439.0,181.89 438.0,181.59 437.0,181.33 436.0,181.10 435.0,180.90 434.0,180.72 433.0,180.54 432.0,180.36 431.0,180.18 430.0,180.01 429.0,179.85 428.0,179.70 427.0,179.56 426.0,179.44 425.0,179.33 424.0,179.23 423.0,179.15 422.0,179.10 421.0,179.06 420.0,179.05 419.0,179.06 418.0,179.08 417.0,179.12 416.0,179.16 415.0,179.21 414.0,179.27 413.0,179.33 412.0,179.39 411.0,179.46 410.0,179.56 409.0,179.67 408.0,179.80 407.0,179.94 406.0,180.09 405.0,180.24 404.0,180.40 403.0,180.55 402.0,180.70 401.0,180.84 400.0,180.97 399.0,181.08 398.0,181.17 397.0,181.25 396.0,181.31 395.0,181.37 394.0,181.42 393.0,181.48 392.0,181.54 391.0,181.59 390.0,181.64 389.0,181.68 388.0,181.72 387.0,181.76 386.0,181.79 385.0,181.81 384.0,181.83 383.0,181.84 382.0,181.85 381.0,181.85 380.0,181.84 379.0,181.83 378.0,181.81 377.0,181.79 376.0,181.76 375.0,181.73 374.0,181.69 373.0,181.65 372.0,181.61 371.0,181.56 370.0,181.51 369.0,181.45 368.0,181.40 367.0,181.34 366.0,181.28 365.0,181.21 364.0,181.10 363.0,180.94 362.0,180.76 361.0,180.57 360.0,180.38 359.0,180.21 358.0,180.08 357.0,179.99 356.0,179.96 355.0,179.94 354.0,179.92 353.0,179.91 352.0,179.89 351.0,179.88 350.0,179.87 349.0,179.86 348.0,179.85 347.0,179.85 346.0,179.86 345.0,179.90 344.0,179.97 343.0,180.08 342.0,180.21 341.0,180.37 340.0,180.54 339.0,180.73 338.0,180.93 337.0,181.13 336.0,181.33 335.0,181.52 334.0,181.71 333.0,181.88 332.0,182.03 331.0,182.16 330.0,182.30 329.0,182.44 328.0,182.59 327.0,182.74 326.0,182.88 325.0,183.03 324.0,183.16 323.0,183.29 322.0,183.40 321.0,183.49 320.0,183.57 319.0,183.62 318.0,183.65 317.0,183.64 316.0,183.59 315.0,183.50 314.0,183.36 313.0,183.19 312.0,182.98 311.0,182.75 310.0,182.49 309.0,182.22 308.0,181.93 307.0,181.63 306.0,181.33 305.0,180.94 304.0,180.45 303.0,179.89 302.0,179.28 301.0,178.67 300.0,178.09 299.0,177.58 298.0,177.10 297.0,176.64 296.0,176.19 295.0,175.75 294.0,175.29 293.0,174.82 292.0,174.33 291.0,173.79 290.0,173.23 289.0,172.64 288.0,172.03 287.0,171.41 286.0,170.78 285.0,170.14 284.0,169.51 283.0,168.87 282.0,168.22 281.0,167.54 280.0,166.87 279.0,166.20 278.0,165.55 277.0,164.93 276.0,164.33 275.0,163.76 274.0,163.20 273.0,162.65 272.0,162.12 271.0,161.60 270.0,161.11 269.0,160.65 268.0,160.21 267.0,159.79 266.0,159.40 265.0,159.02 264.0,158.65 263.0,158.29 262.0,157.94 261.0,157.60 260.0,157.26 259.0,156.93 258.0,156.62 257.0,156.31 256.0,156.00 255.0,155.69 254.0,155.38 253.0,155.07 252.0,154.75 251.0,154.42 250.0,154.09 249.0,153.76 248.0,153.44 247.0,153.12 246.0,152.81 245.0,152.51 244.0,152.22 243.0,151.94 242.0,151.67 241.0,151.40 240.0,151.13 239.0,150.86 238.0,150.60 237.0,150.32 236.0,150.05 235.0,149.77 234.0,149.49 233.0,149.22 232.0,148.95 231.0,148.69 230.0,148.45 229.0,148.22 228.0,148.00 227.0,147.78 226.0,147.57 225.0,147.37 224.0,147.17 223.0,146.98 222.0,146.79 221.0,146.59 220.0,146.40 219.0,146.21 218.0,146.02 217.0,145.85 216.0,145.68 215.0,145.53 214.0,145.40 213.0,145.28 212.0,145.16 211.0,145.07 210.0,145.00 209.0,144.95 208.0,144.91 207.0,144.88 206.0,144.85 205.0,144.83 204.0,144.80 203.0,144.77 202.0,144.74 201.0,144.72 200.0,144.69 199.0,144.67 198.0,144.64 197.0,144.62 196.0,144.60 Z" fill="none" stroke="#000" stroke-width="1.7" stroke-linejoin="round"/>
<line x1="364.3" y1="108.06" x2="364.3" y2="181.14" stroke="#000" stroke-width="1.8" stroke-dasharray="1.65 1.6"/>
<line x1="459.0" y1="99.18" x2="459.0" y2="190.02" stroke="#000" stroke-width="1.8" stroke-dasharray="12.7 3.3" stroke-dashoffset="6.1"/>
<line x1="522.0" y1="92.60" x2="522.0" y2="196.60" stroke="#000" stroke-width="1.8" stroke-dasharray="1.65 1.6"/>
<g shape-rendering="crispEdges">
<rect x="185.09" y="280.69" width="3.49" height="0.31" fill="#cfebf3"/>
<rect x="187.98" y="280.60" width="3.49" height="0.40" fill="#d5edf5"/>
<rect x="190.87" y="280.49" width="3.49" height="0.51" fill="#daf0f6"/>
<rect x="193.76" y="280.32" width="3.49" height="0.68" fill="#dff3f8"/>
<rect x="196.66" y="279.97" width="3.49" height="1.03" fill="#e3f4f3"/>
<rect x="199.55" y="279.15" width="3.49" height="1.85" fill="#e6f5ed"/>
<rect x="202.44" y="278.27" width="3.49" height="2.73" fill="#e9f6e8"/>
<rect x="205.34" y="277.31" width="3.49" height="3.69" fill="#ecf8e2"/>
<rect x="208.23" y="276.16" width="3.49" height="4.84" fill="#eff9dc"/>
<rect x="211.12" y="274.66" width="3.49" height="6.34" fill="#f2fad7"/>
<rect x="214.02" y="272.89" width="3.49" height="8.11" fill="#f5fbd1"/>
<rect x="216.91" y="270.93" width="3.49" height="10.07" fill="#f8fccb"/>
<rect x="219.80" y="268.70" width="3.49" height="12.30" fill="#fcfec5"/>
<rect x="222.69" y="266.39" width="3.49" height="14.61" fill="#ffffc0"/>
<rect x="225.59" y="264.06" width="3.49" height="16.94" fill="#fffcbb"/>
<rect x="228.48" y="261.63" width="3.49" height="19.37" fill="#fff9b6"/>
<rect x="231.37" y="259.23" width="3.49" height="21.77" fill="#fff6b1"/>
<rect x="234.27" y="256.99" width="3.49" height="24.01" fill="#fff3ad"/>
<rect x="237.16" y="254.99" width="3.49" height="26.01" fill="#fff0a8"/>
<rect x="240.05" y="253.08" width="3.49" height="27.92" fill="#feeda3"/>
<rect x="242.94" y="251.36" width="3.49" height="29.64" fill="#feea9e"/>
<rect x="245.84" y="249.98" width="3.49" height="31.02" fill="#fee69a"/>
<rect x="248.73" y="248.73" width="3.49" height="32.27" fill="#fee395"/>
<rect x="251.62" y="247.62" width="3.49" height="33.38" fill="#fee090"/>
<rect x="254.52" y="246.93" width="3.49" height="34.07" fill="#fedb8c"/>
<rect x="257.41" y="246.92" width="3.49" height="34.08" fill="#fed687"/>
<rect x="260.30" y="247.32" width="3.49" height="33.68" fill="#fed182"/>
<rect x="263.19" y="247.96" width="3.49" height="33.04" fill="#fecc7d"/>
<rect x="266.09" y="248.70" width="3.49" height="32.30" fill="#fec779"/>
<rect x="268.98" y="249.40" width="3.49" height="31.60" fill="#fdc274"/>
<rect x="271.87" y="250.25" width="3.49" height="30.75" fill="#fdbd6f"/>
<rect x="274.77" y="251.18" width="3.49" height="29.82" fill="#fdb86b"/>
<rect x="277.66" y="251.91" width="3.49" height="29.09" fill="#fdb366"/>
<rect x="280.55" y="252.26" width="3.49" height="28.74" fill="#fdae61"/>
<rect x="283.45" y="252.52" width="3.49" height="28.48" fill="#fca85e"/>
<rect x="286.34" y="252.71" width="3.49" height="28.29" fill="#fba15b"/>
<rect x="289.23" y="252.83" width="3.49" height="28.17" fill="#fa9b58"/>
<rect x="292.12" y="252.83" width="3.49" height="28.17" fill="#f99455"/>
<rect x="295.02" y="252.56" width="3.49" height="28.44" fill="#f88d52"/>
<rect x="297.91" y="252.06" width="3.49" height="28.94" fill="#f8874f"/>
<rect x="300.80" y="251.43" width="3.49" height="29.57" fill="#f7804c"/>
<rect x="303.70" y="250.78" width="3.49" height="30.22" fill="#f67a49"/>
<rect x="306.59" y="250.19" width="3.49" height="30.81" fill="#f57346"/>
<rect x="309.48" y="249.68" width="3.49" height="31.32" fill="#f46d43"/>
<rect x="312.37" y="249.17" width="3.49" height="31.83" fill="#f16740"/>
<rect x="315.27" y="248.62" width="3.49" height="32.38" fill="#ee613d"/>
<rect x="318.16" y="248.00" width="3.49" height="33.00" fill="#eb5a3a"/>
<rect x="321.05" y="247.26" width="3.49" height="33.74" fill="#e85438"/>
<rect x="323.95" y="246.32" width="3.49" height="34.68" fill="#e54e35"/>
<rect x="326.84" y="245.12" width="3.49" height="35.88" fill="#e24832"/>
<rect x="329.73" y="243.70" width="3.49" height="37.30" fill="#e0422f"/>
<rect x="332.63" y="242.13" width="3.49" height="38.87" fill="#dd3c2c"/>
<rect x="335.52" y="240.44" width="3.49" height="40.56" fill="#da362a"/>
<rect x="338.41" y="238.45" width="3.49" height="42.55" fill="#d73027"/>
<rect x="341.30" y="236.32" width="3.49" height="44.68" fill="#d22b27"/>
<rect x="344.20" y="234.27" width="3.49" height="46.73" fill="#cd2627"/>
<rect x="347.09" y="232.18" width="3.49" height="48.82" fill="#c82127"/>
<rect x="349.98" y="229.99" width="3.49" height="51.01" fill="#c31c27"/>
<rect x="352.88" y="228.11" width="3.49" height="52.89" fill="#be1826"/>
<rect x="355.77" y="226.60" width="3.49" height="54.40" fill="#b91326"/>
<rect x="358.66" y="225.93" width="3.49" height="55.07" fill="#b40e26"/>
<rect x="361.55" y="225.78" width="3.49" height="55.22" fill="#ae0926"/>
<rect x="364.45" y="226.10" width="3.49" height="54.90" fill="#a90426"/>
<rect x="367.34" y="226.68" width="3.49" height="54.32" fill="#a50026"/>
<rect x="370.23" y="227.40" width="3.49" height="53.60" fill="#a50026"/>
<rect x="373.13" y="227.76" width="3.49" height="53.24" fill="#a50026"/>
<rect x="376.02" y="228.15" width="3.49" height="52.85" fill="#a50026"/>
<rect x="378.91" y="229.00" width="3.49" height="52.00" fill="#a50026"/>
<rect x="381.81" y="230.18" width="3.49" height="50.82" fill="#a50026"/>
<rect x="384.70" y="231.59" width="3.49" height="49.41" fill="#a50026"/>
<rect x="387.59" y="234.16" width="3.49" height="46.84" fill="#a50026"/>
<rect x="390.48" y="237.45" width="3.49" height="43.55" fill="#a50026"/>
<rect x="393.38" y="241.36" width="3.49" height="39.64" fill="#a50026"/>
<rect x="396.27" y="246.13" width="3.49" height="34.87" fill="#a50026"/>
<rect x="399.16" y="251.08" width="3.49" height="29.92" fill="#a50026"/>
<rect x="402.06" y="255.21" width="3.49" height="25.79" fill="#a50026"/>
<rect x="404.95" y="258.93" width="3.49" height="22.07" fill="#a50026"/>
<rect x="407.84" y="262.37" width="3.49" height="18.63" fill="#a50026"/>
<rect x="410.73" y="265.65" width="3.49" height="15.35" fill="#a50026"/>
<rect x="413.63" y="268.52" width="3.49" height="12.48" fill="#a50026"/>
<rect x="416.52" y="270.94" width="3.49" height="10.06" fill="#a50026"/>
<rect x="419.41" y="273.02" width="3.49" height="7.98" fill="#a50026"/>
<rect x="422.31" y="274.59" width="3.49" height="6.41" fill="#a50026"/>
<rect x="425.20" y="275.84" width="3.49" height="5.16" fill="#a50026"/>
<rect x="428.09" y="276.79" width="3.49" height="4.21" fill="#a50026"/>
<rect x="430.98" y="277.42" width="3.49" height="3.58" fill="#a50026"/>
<rect x="433.88" y="277.87" width="3.49" height="3.13" fill="#a50026"/>
<rect x="436.77" y="278.29" width="3.49" height="2.71" fill="#a50026"/>
<rect x="439.66" y="278.69" width="3.49" height="2.31" fill="#a50026"/>
<rect x="442.56" y="279.08" width="3.49" height="1.92" fill="#a50026"/>
<rect x="445.45" y="279.50" width="3.49" height="1.50" fill="#a50026"/>
<rect x="448.34" y="279.92" width="3.49" height="1.08" fill="#a50026"/>
<rect x="451.24" y="280.21" width="3.49" height="0.79" fill="#a50026"/>
<rect x="454.13" y="280.45" width="3.49" height="0.55" fill="#a50026"/>
<rect x="457.02" y="280.60" width="3.49" height="0.40" fill="#a50026"/>
<rect x="459.91" y="280.70" width="3.49" height="0.30" fill="#a50026"/>
<rect x="182.19" y="281.00" width="3.49" height="1.31" fill="#cfebf3"/>
<rect x="185.09" y="281.00" width="3.49" height="1.40" fill="#d5edf5"/>
<rect x="187.98" y="281.00" width="3.49" height="1.51" fill="#daf0f6"/>
<rect x="190.87" y="281.00" width="3.49" height="1.68" fill="#dff3f8"/>
<rect x="193.76" y="281.00" width="3.49" height="2.03" fill="#e3f4f3"/>
<rect x="196.66" y="281.00" width="3.49" height="2.85" fill="#e6f5ed"/>
<rect x="199.55" y="281.00" width="3.49" height="3.73" fill="#e9f6e8"/>
<rect x="202.44" y="281.00" width="3.49" height="4.69" fill="#ecf8e2"/>
<rect x="205.34" y="281.00" width="3.49" height="5.84" fill="#eff9dc"/>
<rect x="208.23" y="281.00" width="3.49" height="7.34" fill="#f2fad7"/>
<rect x="211.12" y="281.00" width="3.49" height="9.11" fill="#f5fbd1"/>
<rect x="214.02" y="281.00" width="3.49" height="11.07" fill="#f8fccb"/>
<rect x="216.91" y="281.00" width="3.49" height="13.30" fill="#fcfec5"/>
<rect x="219.80" y="281.00" width="3.49" height="15.61" fill="#ffffc0"/>
<rect x="222.69" y="281.00" width="3.49" height="17.94" fill="#fffcbb"/>
<rect x="225.59" y="281.00" width="3.49" height="20.37" fill="#fff9b6"/>
<rect x="228.48" y="281.00" width="3.49" height="22.77" fill="#fff6b1"/>
<rect x="231.37" y="281.00" width="3.49" height="25.01" fill="#fff3ad"/>
<rect x="234.27" y="281.00" width="3.49" height="27.01" fill="#fff0a8"/>
<rect x="237.16" y="281.00" width="3.49" height="28.92" fill="#feeda3"/>
<rect x="240.05" y="281.00" width="3.49" height="30.64" fill="#feea9e"/>
<rect x="242.94" y="281.00" width="3.49" height="32.02" fill="#fee69a"/>
<rect x="245.84" y="281.00" width="3.49" height="33.27" fill="#fee395"/>
<rect x="248.73" y="281.00" width="3.49" height="34.38" fill="#fee090"/>
<rect x="251.62" y="281.00" width="3.49" height="35.07" fill="#fedb8c"/>
<rect x="254.52" y="281.00" width="3.49" height="35.08" fill="#fed687"/>
<rect x="257.41" y="281.00" width="3.49" height="34.68" fill="#fed182"/>
<rect x="260.30" y="281.00" width="3.49" height="34.04" fill="#fecc7d"/>
<rect x="263.19" y="281.00" width="3.49" height="33.30" fill="#fec779"/>
<rect x="266.09" y="281.00" width="3.49" height="32.60" fill="#fdc274"/>
<rect x="268.98" y="281.00" width="3.49" height="31.75" fill="#fdbd6f"/>
<rect x="271.87" y="281.00" width="3.49" height="30.82" fill="#fdb86b"/>
<rect x="274.77" y="281.00" width="3.49" height="30.09" fill="#fdb366"/>
<rect x="277.66" y="281.00" width="3.49" height="29.74" fill="#fdae61"/>
<rect x="280.55" y="281.00" width="3.49" height="29.48" fill="#fca85e"/>
<rect x="283.45" y="281.00" width="3.49" height="29.29" fill="#fba15b"/>
<rect x="286.34" y="281.00" width="3.49" height="29.17" fill="#fa9b58"/>
<rect x="289.23" y="281.00" width="3.49" height="29.17" fill="#f99455"/>
<rect x="292.12" y="281.00" width="3.49" height="29.44" fill="#f88d52"/>
<rect x="295.02" y="281.00" width="3.49" height="29.94" fill="#f8874f"/>
<rect x="297.91" y="281.00" width="3.49" height="30.57" fill="#f7804c"/>
<rect x="300.80" y="281.00" width="3.49" height="31.22" fill="#f67a49"/>
<rect x="303.70" y="281.00" width="3.49" height="31.81" fill="#f57346"/>
<rect x="306.59" y="281.00" width="3.49" height="32.32" fill="#f46d43"/>
<rect x="309.48" y="281.00" width="3.49" height="32.83" fill="#f16740"/>
<rect x="312.37" y="281.00" width="3.49" height="33.38" fill="#ee613d"/>
<rect x="315.27" y="281.00" width="3.49" height="34.00" fill="#eb5a3a"/>
<rect x="318.16" y="281.00" width="3.49" height="34.74" fill="#e85438"/>
<rect x="321.05" y="281.00" width="3.49" height="35.68" fill="#e54e35"/>
<rect x="323.95" y="281.00" width="3.49" height="36.88" fill="#e24832"/>
<rect x="326.84" y="281.00" width="3.49" height="38.30" fill="#e0422f"/>
<rect x="329.73" y="281.00" width="3.49" height="39.87" fill="#dd3c2c"/>
<rect x="332.63" y="281.00" width="3.49" height="41.56" fill="#da362a"/>
<rect x="335.52" y="281.00" width="3.49" height="43.55" fill="#d73027"/>
<rect x="338.41" y="281.00" width="3.49" height="45.68" fill="#d22b27"/>
<rect x="341.30" y="281.00" width="3.49" height="47.73" fill="#cd2627"/>
<rect x="344.20" y="281.00" width="3.49" height="49.82" fill="#c82127"/>
<rect x="347.09" y="281.00" width="3.49" height="52.01" fill="#c31c27"/>
<rect x="349.98" y="281.00" width="3.49" height="53.89" fill="#be1826"/>
<rect x="352.88" y="281.00" width="3.49" height="55.40" fill="#b91326"/>
<rect x="355.77" y="281.00" width="3.49" height="56.07" fill="#b40e26"/>
<rect x="358.66" y="281.00" width="3.49" height="56.22" fill="#ae0926"/>
<rect x="361.55" y="281.00" width="3.49" height="55.90" fill="#a90426"/>
<rect x="364.45" y="281.00" width="3.49" height="55.32" fill="#a50026"/>
<rect x="367.34" y="281.00" width="3.49" height="54.60" fill="#a50026"/>
<rect x="370.23" y="281.00" width="3.49" height="54.24" fill="#a50026"/>
<rect x="373.13" y="281.00" width="3.49" height="53.85" fill="#a50026"/>
<rect x="376.02" y="281.00" width="3.49" height="53.00" fill="#a50026"/>
<rect x="378.91" y="281.00" width="3.49" height="51.82" fill="#a50026"/>
<rect x="381.81" y="281.00" width="3.49" height="50.41" fill="#a50026"/>
<rect x="384.70" y="281.00" width="3.49" height="47.84" fill="#a50026"/>
<rect x="387.59" y="281.00" width="3.49" height="44.55" fill="#a50026"/>
<rect x="390.48" y="281.00" width="3.49" height="40.64" fill="#a50026"/>
<rect x="393.38" y="281.00" width="3.49" height="35.87" fill="#a50026"/>
<rect x="396.27" y="281.00" width="3.49" height="30.92" fill="#a50026"/>
<rect x="399.16" y="281.00" width="3.49" height="26.79" fill="#a50026"/>
<rect x="402.06" y="281.00" width="3.49" height="23.07" fill="#a50026"/>
<rect x="404.95" y="281.00" width="3.49" height="19.63" fill="#a50026"/>
<rect x="407.84" y="281.00" width="3.49" height="16.35" fill="#a50026"/>
<rect x="410.73" y="281.00" width="3.49" height="13.48" fill="#a50026"/>
<rect x="413.63" y="281.00" width="3.49" height="11.06" fill="#a50026"/>
<rect x="416.52" y="281.00" width="3.49" height="8.98" fill="#a50026"/>
<rect x="419.41" y="281.00" width="3.49" height="7.41" fill="#a50026"/>
<rect x="422.31" y="281.00" width="3.49" height="6.16" fill="#a50026"/>
<rect x="425.20" y="281.00" width="3.49" height="5.21" fill="#a50026"/>
<rect x="428.09" y="281.00" width="3.49" height="4.58" fill="#a50026"/>
<rect x="430.98" y="281.00" width="3.49" height="4.13" fill="#a50026"/>
<rect x="433.88" y="281.00" width="3.49" height="3.71" fill="#a50026"/>
<rect x="436.77" y="281.00" width="3.49" height="3.31" fill="#a50026"/>
<rect x="439.66" y="281.00" width="3.49" height="2.92" fill="#a50026"/>
<rect x="442.56" y="281.00" width="3.49" height="2.50" fill="#a50026"/>
<rect x="445.45" y="281.00" width="3.49" height="2.08" fill="#a50026"/>
<rect x="448.34" y="281.00" width="3.49" height="1.79" fill="#a50026"/>
<rect x="451.24" y="281.00" width="3.49" height="1.55" fill="#a50026"/>
<rect x="454.13" y="281.00" width="3.49" height="1.40" fill="#a50026"/>
<rect x="457.02" y="281.00" width="3.49" height="1.30" fill="#a50026"/>
</g>
<path d="M179.3,281.50 180.3,281.49 181.3,281.48 182.3,281.46 183.3,281.44 184.3,281.41 185.3,281.39 186.3,281.35 187.3,281.32 188.3,281.29 189.3,281.25 190.3,281.22 191.3,281.17 192.3,281.12 193.3,281.05 194.3,280.98 195.3,280.89 196.3,280.74 197.3,280.52 198.3,280.24 199.3,279.93 200.3,279.61 201.3,279.31 202.3,279.01 203.3,278.70 204.3,278.37 205.3,278.03 206.3,277.66 207.3,277.26 208.3,276.83 209.3,276.35 210.3,275.82 211.3,275.26 212.3,274.66 213.3,274.04 214.3,273.40 215.3,272.75 216.3,272.06 217.3,271.34 218.3,270.58 219.3,269.79 220.3,269.00 221.3,268.20 222.3,267.40 223.3,266.61 224.3,265.82 225.3,265.00 226.3,264.17 227.3,263.33 228.3,262.48 229.3,261.64 230.3,260.81 231.3,259.99 232.3,259.19 233.3,258.41 234.3,257.67 235.3,256.96 236.3,256.27 237.3,255.59 238.3,254.92 239.3,254.26 240.3,253.62 241.3,253.01 242.3,252.42 243.3,251.87 244.3,251.36 245.3,250.90 246.3,250.48 247.3,250.05 248.3,249.62 249.3,249.19 250.3,248.79 251.3,248.42 252.3,248.11 253.3,247.85 254.3,247.66 255.3,247.56 256.3,247.56 257.3,247.61 258.3,247.71 259.3,247.85 260.3,248.02 261.3,248.22 262.3,248.45 263.3,248.69 264.3,248.94 265.3,249.20 266.3,249.45 267.3,249.70 268.3,249.94 269.3,250.18 270.3,250.46 271.3,250.77 272.3,251.09 273.3,251.42 274.3,251.74 275.3,252.04 276.3,252.31 277.3,252.54 278.3,252.72 279.3,252.84 280.3,252.94 281.3,253.03 282.3,253.12 283.3,253.20 284.3,253.28 285.3,253.35 286.3,253.41 287.3,253.46 288.3,253.50 289.3,253.53 290.3,253.55 291.3,253.55 292.3,253.52 293.3,253.45 294.3,253.35 295.3,253.22 296.3,253.06 297.3,252.88 298.3,252.68 299.3,252.47 300.3,252.25 301.3,252.02 302.3,251.79 303.3,251.57 304.3,251.35 305.3,251.14 306.3,250.95 307.3,250.76 308.3,250.59 309.3,250.41 310.3,250.23 311.3,250.06 312.3,249.88 313.3,249.70 314.3,249.51 315.3,249.32 316.3,249.11 317.3,248.90 318.3,248.67 319.3,248.42 320.3,248.17 321.3,247.89 322.3,247.59 323.3,247.25 324.3,246.88 325.3,246.49 326.3,246.06 327.3,245.60 328.3,245.13 329.3,244.63 330.3,244.11 331.3,243.57 332.3,243.01 333.3,242.44 334.3,241.86 335.3,241.27 336.3,240.66 337.3,239.98 338.3,239.23 339.3,238.47 340.3,237.73 341.3,237.02 342.3,236.31 343.3,235.60 344.3,234.90 345.3,234.19 346.3,233.47 347.3,232.72 348.3,231.96 349.3,231.20 350.3,230.46 351.3,229.77 352.3,229.16 353.3,228.55 354.3,227.98 355.3,227.49 356.3,227.15 357.3,226.91 358.3,226.69 359.3,226.53 360.3,226.45 361.3,226.47 362.3,226.54 363.3,226.65 364.3,226.78 365.3,226.93 366.3,227.11 367.3,227.37 368.3,227.65 369.3,227.91 370.3,228.11 371.3,228.25 372.3,228.37 373.3,228.48 374.3,228.59 375.3,228.73 376.3,228.90 377.3,229.15 378.3,229.47 379.3,229.85 380.3,230.26 381.3,230.68 382.3,231.09 383.3,231.53 384.3,232.05 385.3,232.70 386.3,233.55 387.3,234.55 388.3,235.62 389.3,236.73 390.3,237.92 391.3,239.20 392.3,240.54 393.3,241.95 394.3,243.47 395.3,245.14 396.3,246.89 397.3,248.65 398.3,250.38 399.3,252.00 400.3,253.47 401.3,254.88 402.3,256.24 403.3,257.55 404.3,258.82 405.3,260.06 406.3,261.26 407.3,262.44 408.3,263.60 409.3,264.75 410.3,265.87 411.3,266.95 412.3,267.97 413.3,268.93 414.3,269.81 415.3,270.65 416.3,271.46 417.3,272.24 418.3,272.97 419.3,273.65 420.3,274.26 421.3,274.80 422.3,275.29 423.3,275.75 424.3,276.18 425.3,276.58 426.3,276.94 427.3,277.26 428.3,277.55 429.3,277.78 430.3,277.99 431.3,278.17 432.3,278.33 433.3,278.48 434.3,278.63 435.3,278.77 436.3,278.92 437.3,279.07 438.3,279.21 439.3,279.34 440.3,279.48 441.3,279.61 442.3,279.75 443.3,279.89 444.3,280.03 445.3,280.18 446.3,280.33 447.3,280.48 448.3,280.61 449.3,280.73 450.3,280.83 451.3,280.92 452.3,281.01 453.3,281.09 454.3,281.16 455.3,281.22 456.3,281.27 457.3,281.31 458.3,281.35 459.3,281.38 460.3,281.41 461.3,281.44 462.3,281.46 463.3,281.48 464.3,281.49 465.3,281.50 465.7,281.50 L465.7,281.50 465.3,281.50 464.3,281.51 463.3,281.52 462.3,281.54 461.3,281.56 460.3,281.59 459.3,281.62 458.3,281.65 457.3,281.69 456.3,281.73 455.3,281.78 454.3,281.84 453.3,281.91 452.3,281.99 451.3,282.08 450.3,282.17 449.3,282.27 448.3,282.39 447.3,282.52 446.3,282.67 445.3,282.82 444.3,282.97 443.3,283.11 442.3,283.25 441.3,283.39 440.3,283.52 439.3,283.66 438.3,283.79 437.3,283.93 436.3,284.08 435.3,284.23 434.3,284.37 433.3,284.52 432.3,284.67 431.3,284.83 430.3,285.01 429.3,285.22 428.3,285.45 427.3,285.74 426.3,286.06 425.3,286.42 424.3,286.82 423.3,287.25 422.3,287.71 421.3,288.20 420.3,288.74 419.3,289.35 418.3,290.03 417.3,290.76 416.3,291.54 415.3,292.35 414.3,293.19 413.3,294.07 412.3,295.03 411.3,296.05 410.3,297.13 409.3,298.25 408.3,299.40 407.3,300.56 406.3,301.74 405.3,302.94 404.3,304.18 403.3,305.45 402.3,306.76 401.3,308.12 400.3,309.53 399.3,311.00 398.3,312.62 397.3,314.35 396.3,316.11 395.3,317.86 394.3,319.53 393.3,321.05 392.3,322.46 391.3,323.80 390.3,325.08 389.3,326.27 388.3,327.38 387.3,328.45 386.3,329.45 385.3,330.30 384.3,330.95 383.3,331.47 382.3,331.91 381.3,332.32 380.3,332.74 379.3,333.15 378.3,333.53 377.3,333.85 376.3,334.10 375.3,334.27 374.3,334.41 373.3,334.52 372.3,334.63 371.3,334.75 370.3,334.89 369.3,335.09 368.3,335.35 367.3,335.63 366.3,335.89 365.3,336.07 364.3,336.22 363.3,336.35 362.3,336.46 361.3,336.53 360.3,336.55 359.3,336.47 358.3,336.31 357.3,336.09 356.3,335.85 355.3,335.51 354.3,335.02 353.3,334.45 352.3,333.84 351.3,333.23 350.3,332.54 349.3,331.80 348.3,331.04 347.3,330.28 346.3,329.53 345.3,328.81 344.3,328.10 343.3,327.40 342.3,326.69 341.3,325.98 340.3,325.27 339.3,324.53 338.3,323.77 337.3,323.02 336.3,322.34 335.3,321.73 334.3,321.14 333.3,320.56 332.3,319.99 331.3,319.43 330.3,318.89 329.3,318.37 328.3,317.87 327.3,317.40 326.3,316.94 325.3,316.51 324.3,316.12 323.3,315.75 322.3,315.41 321.3,315.11 320.3,314.83 319.3,314.58 318.3,314.33 317.3,314.10 316.3,313.89 315.3,313.68 314.3,313.49 313.3,313.30 312.3,313.12 311.3,312.94 310.3,312.77 309.3,312.59 308.3,312.41 307.3,312.24 306.3,312.05 305.3,311.86 304.3,311.65 303.3,311.43 302.3,311.21 301.3,310.98 300.3,310.75 299.3,310.53 298.3,310.32 297.3,310.12 296.3,309.94 295.3,309.78 294.3,309.65 293.3,309.55 292.3,309.48 291.3,309.45 290.3,309.45 289.3,309.47 288.3,309.50 287.3,309.54 286.3,309.59 285.3,309.65 284.3,309.72 283.3,309.80 282.3,309.88 281.3,309.97 280.3,310.06 279.3,310.16 278.3,310.28 277.3,310.46 276.3,310.69 275.3,310.96 274.3,311.26 273.3,311.58 272.3,311.91 271.3,312.23 270.3,312.54 269.3,312.82 268.3,313.06 267.3,313.30 266.3,313.55 265.3,313.80 264.3,314.06 263.3,314.31 262.3,314.55 261.3,314.78 260.3,314.98 259.3,315.15 258.3,315.29 257.3,315.39 256.3,315.44 255.3,315.44 254.3,315.34 253.3,315.15 252.3,314.89 251.3,314.58 250.3,314.21 249.3,313.81 248.3,313.38 247.3,312.95 246.3,312.52 245.3,312.10 244.3,311.64 243.3,311.13 242.3,310.58 241.3,309.99 240.3,309.38 239.3,308.74 238.3,308.08 237.3,307.41 236.3,306.73 235.3,306.04 234.3,305.33 233.3,304.59 232.3,303.81 231.3,303.01 230.3,302.19 229.3,301.36 228.3,300.52 227.3,299.67 226.3,298.83 225.3,298.00 224.3,297.18 223.3,296.39 222.3,295.60 221.3,294.80 220.3,294.00 219.3,293.21 218.3,292.42 217.3,291.66 216.3,290.94 215.3,290.25 214.3,289.60 213.3,288.96 212.3,288.34 211.3,287.74 210.3,287.18 209.3,286.65 208.3,286.17 207.3,285.74 206.3,285.34 205.3,284.97 204.3,284.63 203.3,284.30 202.3,283.99 201.3,283.69 200.3,283.39 199.3,283.07 198.3,282.76 197.3,282.48 196.3,282.26 195.3,282.11 194.3,282.02 193.3,281.95 192.3,281.88 191.3,281.83 190.3,281.78 189.3,281.75 188.3,281.71 187.3,281.68 186.3,281.65 185.3,281.61 184.3,281.59 183.3,281.56 182.3,281.54 181.3,281.52 180.3,281.51 179.3,281.50 Z" fill="none" stroke="#000" stroke-width="1.7" stroke-linejoin="round"/>
<line x1="278.9" y1="252.80" x2="278.9" y2="310.20" stroke="#000" stroke-width="1.8" stroke-dasharray="1.65 1.6"/>
<line x1="336.1" y1="240.79" x2="336.1" y2="322.21" stroke="#000" stroke-width="1.8" stroke-dasharray="12.7 3.3" stroke-dashoffset="6.1"/>
<line x1="370.1" y1="228.07" x2="370.1" y2="334.93" stroke="#000" stroke-width="1.8" stroke-dasharray="1.65 1.6"/>
<g shape-rendering="crispEdges">
<rect x="183.97" y="417.47" width="6.27" height="0.33" fill="#cdeaf3"/>
<rect x="189.63" y="417.23" width="6.27" height="0.57" fill="#d8eff6"/>
<rect x="195.30" y="416.63" width="6.27" height="1.17" fill="#e1f3f6"/>
<rect x="200.97" y="415.48" width="6.27" height="2.32" fill="#e7f6eb"/>
<rect x="206.63" y="414.29" width="6.27" height="3.51" fill="#edf8df"/>
<rect x="212.30" y="412.79" width="6.27" height="5.01" fill="#f3fbd4"/>
<rect x="217.97" y="411.01" width="6.27" height="6.79" fill="#fafdc9"/>
<rect x="223.63" y="408.95" width="6.27" height="8.85" fill="#fffebe"/>
<rect x="229.30" y="406.46" width="6.27" height="11.34" fill="#fff8b5"/>
<rect x="234.97" y="403.58" width="6.27" height="14.22" fill="#fff2ab"/>
<rect x="240.63" y="400.36" width="6.27" height="17.44" fill="#feeca2"/>
<rect x="246.30" y="396.63" width="6.27" height="21.17" fill="#fee699"/>
<rect x="251.97" y="392.63" width="6.27" height="25.17" fill="#fee090"/>
<rect x="257.63" y="388.11" width="6.27" height="29.69" fill="#fed686"/>
<rect x="263.30" y="383.95" width="6.27" height="33.85" fill="#fecc7d"/>
<rect x="268.97" y="380.51" width="6.27" height="37.29" fill="#fdc274"/>
<rect x="274.63" y="378.16" width="6.27" height="39.64" fill="#fdb86b"/>
<rect x="280.30" y="376.66" width="6.27" height="41.14" fill="#fdaf62"/>
<rect x="285.97" y="376.43" width="6.27" height="41.37" fill="#fba25b"/>
<rect x="291.63" y="377.00" width="6.27" height="40.80" fill="#fa9556"/>
<rect x="297.30" y="377.70" width="6.27" height="40.10" fill="#f88850"/>
<rect x="302.97" y="378.59" width="6.27" height="39.21" fill="#f67c4a"/>
<rect x="308.63" y="379.27" width="6.27" height="38.53" fill="#f46f44"/>
<rect x="314.30" y="379.52" width="6.27" height="38.28" fill="#ef633e"/>
<rect x="319.97" y="379.73" width="6.27" height="38.07" fill="#e95739"/>
<rect x="325.63" y="380.15" width="6.27" height="37.65" fill="#e44b33"/>
<rect x="331.30" y="380.76" width="6.27" height="37.04" fill="#de3f2e"/>
<rect x="336.97" y="381.47" width="6.27" height="36.33" fill="#d83328"/>
<rect x="342.63" y="382.36" width="6.27" height="35.44" fill="#cf2927"/>
<rect x="348.30" y="383.06" width="6.27" height="34.74" fill="#c51f27"/>
<rect x="353.97" y="383.62" width="6.27" height="34.18" fill="#bc1626"/>
<rect x="359.63" y="383.94" width="6.27" height="33.86" fill="#b20c26"/>
<rect x="365.30" y="384.08" width="6.27" height="33.72" fill="#a80326"/>
<rect x="370.97" y="384.15" width="6.27" height="33.65" fill="#a50026"/>
<rect x="376.63" y="383.72" width="6.27" height="34.08" fill="#a50026"/>
<rect x="382.30" y="382.50" width="6.27" height="35.30" fill="#a50026"/>
<rect x="387.97" y="380.73" width="6.27" height="37.07" fill="#a50026"/>
<rect x="393.63" y="377.83" width="6.27" height="39.97" fill="#a50026"/>
<rect x="399.30" y="374.60" width="6.27" height="43.20" fill="#a50026"/>
<rect x="404.97" y="370.92" width="6.27" height="46.88" fill="#a50026"/>
<rect x="410.63" y="367.30" width="6.27" height="50.50" fill="#a50026"/>
<rect x="416.30" y="364.88" width="6.27" height="52.92" fill="#a50026"/>
<rect x="421.97" y="363.90" width="6.27" height="53.90" fill="#a50026"/>
<rect x="427.63" y="363.39" width="6.27" height="54.41" fill="#a50026"/>
<rect x="433.30" y="363.05" width="6.27" height="54.75" fill="#a50026"/>
<rect x="438.97" y="362.95" width="6.27" height="54.85" fill="#a50026"/>
<rect x="444.63" y="363.07" width="6.27" height="54.73" fill="#a50026"/>
<rect x="450.30" y="363.32" width="6.27" height="54.48" fill="#a50026"/>
<rect x="455.97" y="364.15" width="6.27" height="53.65" fill="#a50026"/>
<rect x="461.63" y="366.55" width="6.27" height="51.25" fill="#a50026"/>
<rect x="467.30" y="369.66" width="6.27" height="48.14" fill="#a50026"/>
<rect x="472.97" y="373.66" width="6.27" height="44.14" fill="#a50026"/>
<rect x="478.63" y="379.11" width="6.27" height="38.69" fill="#a50026"/>
<rect x="484.30" y="383.90" width="6.27" height="33.90" fill="#a50026"/>
<rect x="489.97" y="388.04" width="6.27" height="29.76" fill="#a50026"/>
<rect x="495.63" y="391.26" width="6.27" height="26.54" fill="#a50026"/>
<rect x="501.30" y="393.57" width="6.27" height="24.23" fill="#a50026"/>
<rect x="506.97" y="394.93" width="6.27" height="22.87" fill="#a50026"/>
<rect x="512.63" y="395.89" width="6.27" height="21.91" fill="#a50026"/>
<rect x="518.30" y="396.56" width="6.27" height="21.24" fill="#a50026"/>
<rect x="523.97" y="397.48" width="6.27" height="20.32" fill="#a50026"/>
<rect x="529.63" y="398.81" width="6.27" height="18.99" fill="#a50026"/>
<rect x="535.30" y="400.76" width="6.27" height="17.04" fill="#a50026"/>
<rect x="540.97" y="403.06" width="6.27" height="14.74" fill="#a50026"/>
<rect x="546.63" y="404.82" width="6.27" height="12.98" fill="#a50026"/>
<rect x="552.30" y="406.16" width="6.27" height="11.64" fill="#a50026"/>
<rect x="557.97" y="407.11" width="6.27" height="10.69" fill="#a50026"/>
<rect x="563.63" y="407.85" width="6.27" height="9.95" fill="#a50026"/>
<rect x="569.30" y="408.42" width="6.27" height="9.38" fill="#a50026"/>
<rect x="574.97" y="408.88" width="6.27" height="8.92" fill="#a50026"/>
<rect x="580.63" y="409.27" width="6.27" height="8.53" fill="#a50026"/>
<rect x="586.30" y="409.60" width="6.27" height="8.20" fill="#a50026"/>
<rect x="591.97" y="409.92" width="6.27" height="7.88" fill="#a50026"/>
<rect x="597.63" y="410.22" width="6.27" height="7.58" fill="#a50026"/>
<rect x="603.30" y="410.55" width="6.27" height="7.25" fill="#a50026"/>
<rect x="608.97" y="410.92" width="6.27" height="6.88" fill="#a50026"/>
<rect x="614.63" y="411.33" width="6.27" height="6.47" fill="#a50026"/>
<rect x="620.30" y="411.76" width="6.27" height="6.04" fill="#a50026"/>
<rect x="625.97" y="412.24" width="6.27" height="5.56" fill="#a50026"/>
<rect x="631.63" y="412.75" width="6.27" height="5.05" fill="#a50026"/>
<rect x="637.30" y="413.27" width="6.27" height="4.53" fill="#a50026"/>
<rect x="642.97" y="413.77" width="6.27" height="4.03" fill="#a50026"/>
<rect x="648.63" y="414.28" width="6.27" height="3.52" fill="#a50026"/>
<rect x="654.30" y="414.78" width="6.27" height="3.02" fill="#a50026"/>
<rect x="659.97" y="415.27" width="6.27" height="2.53" fill="#a50026"/>
<rect x="665.63" y="415.75" width="6.27" height="2.05" fill="#a50026"/>
<rect x="671.30" y="416.23" width="6.27" height="1.57" fill="#a50026"/>
<rect x="676.97" y="416.67" width="6.27" height="1.13" fill="#a50026"/>
<rect x="682.63" y="417.01" width="6.27" height="0.79" fill="#a50026"/>
<rect x="688.30" y="417.29" width="6.27" height="0.51" fill="#a50026"/>
<rect x="693.97" y="417.39" width="6.27" height="0.41" fill="#a50026"/>
<rect x="699.63" y="417.44" width="6.27" height="0.36" fill="#a50026"/>
<rect x="705.30" y="417.48" width="6.27" height="0.32" fill="#a50026"/>
<rect x="710.97" y="417.50" width="6.27" height="0.30" fill="#a50026"/>
<rect x="716.63" y="417.53" width="6.27" height="0.27" fill="#a50026"/>
<rect x="178.30" y="417.80" width="6.27" height="1.33" fill="#cdeaf3"/>
<rect x="183.97" y="417.80" width="6.27" height="1.57" fill="#d8eff6"/>
<rect x="189.63" y="417.80" width="6.27" height="2.17" fill="#e1f3f6"/>
<rect x="195.30" y="417.80" width="6.27" height="3.32" fill="#e7f6eb"/>
<rect x="200.97" y="417.80" width="6.27" height="4.51" fill="#edf8df"/>
<rect x="206.63" y="417.80" width="6.27" height="6.01" fill="#f3fbd4"/>
<rect x="212.30" y="417.80" width="6.27" height="7.79" fill="#fafdc9"/>
<rect x="217.97" y="417.80" width="6.27" height="9.85" fill="#fffebe"/>
<rect x="223.63" y="417.80" width="6.27" height="12.34" fill="#fff8b5"/>
<rect x="229.30" y="417.80" width="6.27" height="15.22" fill="#fff2ab"/>
<rect x="234.97" y="417.80" width="6.27" height="18.44" fill="#feeca2"/>
<rect x="240.63" y="417.80" width="6.27" height="22.17" fill="#fee699"/>
<rect x="246.30" y="417.80" width="6.27" height="26.17" fill="#fee090"/>
<rect x="251.97" y="417.80" width="6.27" height="30.69" fill="#fed686"/>
<rect x="257.63" y="417.80" width="6.27" height="34.85" fill="#fecc7d"/>
<rect x="263.30" y="417.80" width="6.27" height="38.29" fill="#fdc274"/>
<rect x="268.97" y="417.80" width="6.27" height="40.64" fill="#fdb86b"/>
<rect x="274.63" y="417.80" width="6.27" height="42.14" fill="#fdaf62"/>
<rect x="280.30" y="417.80" width="6.27" height="42.37" fill="#fba25b"/>
<rect x="285.97" y="417.80" width="6.27" height="41.80" fill="#fa9556"/>
<rect x="291.63" y="417.80" width="6.27" height="41.10" fill="#f88850"/>
<rect x="297.30" y="417.80" width="6.27" height="40.21" fill="#f67c4a"/>
<rect x="302.97" y="417.80" width="6.27" height="39.53" fill="#f46f44"/>
<rect x="308.63" y="417.80" width="6.27" height="39.28" fill="#ef633e"/>
<rect x="314.30" y="417.80" width="6.27" height="39.07" fill="#e95739"/>
<rect x="319.97" y="417.80" width="6.27" height="38.65" fill="#e44b33"/>
<rect x="325.63" y="417.80" width="6.27" height="38.04" fill="#de3f2e"/>
<rect x="331.30" y="417.80" width="6.27" height="37.33" fill="#d83328"/>
<rect x="336.97" y="417.80" width="6.27" height="36.44" fill="#cf2927"/>
<rect x="342.63" y="417.80" width="6.27" height="35.74" fill="#c51f27"/>
<rect x="348.30" y="417.80" width="6.27" height="35.18" fill="#bc1626"/>
<rect x="353.97" y="417.80" width="6.27" height="34.86" fill="#b20c26"/>
<rect x="359.63" y="417.80" width="6.27" height="34.72" fill="#a80326"/>
<rect x="365.30" y="417.80" width="6.27" height="34.65" fill="#a50026"/>
<rect x="370.97" y="417.80" width="6.27" height="35.08" fill="#a50026"/>
<rect x="376.63" y="417.80" width="6.27" height="36.30" fill="#a50026"/>
<rect x="382.30" y="417.80" width="6.27" height="38.07" fill="#a50026"/>
<rect x="387.97" y="417.80" width="6.27" height="40.97" fill="#a50026"/>
<rect x="393.63" y="417.80" width="6.27" height="44.20" fill="#a50026"/>
<rect x="399.30" y="417.80" width="6.27" height="47.88" fill="#a50026"/>
<rect x="404.97" y="417.80" width="6.27" height="51.50" fill="#a50026"/>
<rect x="410.63" y="417.80" width="6.27" height="53.92" fill="#a50026"/>
<rect x="416.30" y="417.80" width="6.27" height="54.90" fill="#a50026"/>
<rect x="421.97" y="417.80" width="6.27" height="55.41" fill="#a50026"/>
<rect x="427.63" y="417.80" width="6.27" height="55.75" fill="#a50026"/>
<rect x="433.30" y="417.80" width="6.27" height="55.85" fill="#a50026"/>
<rect x="438.97" y="417.80" width="6.27" height="55.73" fill="#a50026"/>
<rect x="444.63" y="417.80" width="6.27" height="55.48" fill="#a50026"/>
<rect x="450.30" y="417.80" width="6.27" height="54.65" fill="#a50026"/>
<rect x="455.97" y="417.80" width="6.27" height="52.25" fill="#a50026"/>
<rect x="461.63" y="417.80" width="6.27" height="49.14" fill="#a50026"/>
<rect x="467.30" y="417.80" width="6.27" height="45.14" fill="#a50026"/>
<rect x="472.97" y="417.80" width="6.27" height="39.69" fill="#a50026"/>
<rect x="478.63" y="417.80" width="6.27" height="34.90" fill="#a50026"/>
<rect x="484.30" y="417.80" width="6.27" height="30.76" fill="#a50026"/>
<rect x="489.97" y="417.80" width="6.27" height="27.54" fill="#a50026"/>
<rect x="495.63" y="417.80" width="6.27" height="25.23" fill="#a50026"/>
<rect x="501.30" y="417.80" width="6.27" height="23.87" fill="#a50026"/>
<rect x="506.97" y="417.80" width="6.27" height="22.91" fill="#a50026"/>
<rect x="512.63" y="417.80" width="6.27" height="22.24" fill="#a50026"/>
<rect x="518.30" y="417.80" width="6.27" height="21.32" fill="#a50026"/>
<rect x="523.97" y="417.80" width="6.27" height="19.99" fill="#a50026"/>
<rect x="529.63" y="417.80" width="6.27" height="18.04" fill="#a50026"/>
<rect x="535.30" y="417.80" width="6.27" height="15.74" fill="#a50026"/>
<rect x="540.97" y="417.80" width="6.27" height="13.98" fill="#a50026"/>
<rect x="546.63" y="417.80" width="6.27" height="12.64" fill="#a50026"/>
<rect x="552.30" y="417.80" width="6.27" height="11.69" fill="#a50026"/>
<rect x="557.97" y="417.80" width="6.27" height="10.95" fill="#a50026"/>
<rect x="563.63" y="417.80" width="6.27" height="10.38" fill="#a50026"/>
<rect x="569.30" y="417.80" width="6.27" height="9.92" fill="#a50026"/>
<rect x="574.97" y="417.80" width="6.27" height="9.53" fill="#a50026"/>
<rect x="580.63" y="417.80" width="6.27" height="9.20" fill="#a50026"/>
<rect x="586.30" y="417.80" width="6.27" height="8.88" fill="#a50026"/>
<rect x="591.97" y="417.80" width="6.27" height="8.58" fill="#a50026"/>
<rect x="597.63" y="417.80" width="6.27" height="8.25" fill="#a50026"/>
<rect x="603.30" y="417.80" width="6.27" height="7.88" fill="#a50026"/>
<rect x="608.97" y="417.80" width="6.27" height="7.47" fill="#a50026"/>
<rect x="614.63" y="417.80" width="6.27" height="7.04" fill="#a50026"/>
<rect x="620.30" y="417.80" width="6.27" height="6.56" fill="#a50026"/>
<rect x="625.97" y="417.80" width="6.27" height="6.05" fill="#a50026"/>
<rect x="631.63" y="417.80" width="6.27" height="5.53" fill="#a50026"/>
<rect x="637.30" y="417.80" width="6.27" height="5.03" fill="#a50026"/>
<rect x="642.97" y="417.80" width="6.27" height="4.52" fill="#a50026"/>
<rect x="648.63" y="417.80" width="6.27" height="4.02" fill="#a50026"/>
<rect x="654.30" y="417.80" width="6.27" height="3.53" fill="#a50026"/>
<rect x="659.97" y="417.80" width="6.27" height="3.05" fill="#a50026"/>
<rect x="665.63" y="417.80" width="6.27" height="2.57" fill="#a50026"/>
<rect x="671.30" y="417.80" width="6.27" height="2.13" fill="#a50026"/>
<rect x="676.97" y="417.80" width="6.27" height="1.79" fill="#a50026"/>
<rect x="682.63" y="417.80" width="6.27" height="1.51" fill="#a50026"/>
<rect x="688.30" y="417.80" width="6.27" height="1.41" fill="#a50026"/>
<rect x="693.97" y="417.80" width="6.27" height="1.36" fill="#a50026"/>
<rect x="699.63" y="417.80" width="6.27" height="1.32" fill="#a50026"/>
<rect x="705.30" y="417.80" width="6.27" height="1.30" fill="#a50026"/>
<rect x="710.97" y="417.80" width="6.27" height="1.27" fill="#a50026"/>
</g>
<path d="M178.3,418.30 179.3,418.29 180.3,418.27 181.3,418.25 182.3,418.22 183.3,418.19 184.3,418.16 185.3,418.13 186.3,418.09 187.3,418.05 188.3,418.00 189.3,417.95 190.3,417.89 191.3,417.81 192.3,417.73 193.3,417.64 194.3,417.50 195.3,417.33 196.3,417.14 197.3,416.94 198.3,416.72 199.3,416.51 200.3,416.31 201.3,416.11 202.3,415.92 203.3,415.71 204.3,415.51 205.3,415.29 206.3,415.07 207.3,414.83 208.3,414.58 209.3,414.32 210.3,414.06 211.3,413.78 212.3,413.49 213.3,413.20 214.3,412.90 215.3,412.59 216.3,412.27 217.3,411.94 218.3,411.60 219.3,411.25 220.3,410.90 221.3,410.53 222.3,410.16 223.3,409.78 224.3,409.38 225.3,408.97 226.3,408.54 227.3,408.09 228.3,407.64 229.3,407.16 230.3,406.68 231.3,406.18 232.3,405.68 233.3,405.16 234.3,404.63 235.3,404.10 236.3,403.55 237.3,403.00 238.3,402.44 239.3,401.86 240.3,401.26 241.3,400.64 242.3,400.01 243.3,399.36 244.3,398.69 245.3,398.02 246.3,397.33 247.3,396.64 248.3,395.94 249.3,395.24 250.3,394.53 251.3,393.82 252.3,393.07 253.3,392.30 254.3,391.51 255.3,390.70 256.3,389.89 257.3,389.08 258.3,388.28 259.3,387.49 260.3,386.73 261.3,385.99 262.3,385.30 263.3,384.65 264.3,384.02 265.3,383.39 266.3,382.77 267.3,382.16 268.3,381.58 269.3,381.03 270.3,380.51 271.3,380.04 272.3,379.63 273.3,379.28 274.3,378.97 275.3,378.66 276.3,378.35 277.3,378.06 278.3,377.80 279.3,377.56 280.3,377.36 281.3,377.20 282.3,377.10 283.3,377.05 284.3,377.06 285.3,377.09 286.3,377.15 287.3,377.22 288.3,377.31 289.3,377.42 290.3,377.53 291.3,377.66 292.3,377.78 293.3,377.91 294.3,378.04 295.3,378.16 296.3,378.28 297.3,378.40 298.3,378.54 299.3,378.69 300.3,378.85 301.3,379.02 302.3,379.18 303.3,379.34 304.3,379.49 305.3,379.63 306.3,379.76 307.3,379.87 308.3,379.95 309.3,380.01 310.3,380.07 311.3,380.11 312.3,380.15 313.3,380.19 314.3,380.22 315.3,380.25 316.3,380.28 317.3,380.32 318.3,380.35 319.3,380.40 320.3,380.45 321.3,380.51 322.3,380.57 323.3,380.65 324.3,380.73 325.3,380.82 326.3,380.92 327.3,381.02 328.3,381.12 329.3,381.23 330.3,381.34 331.3,381.46 332.3,381.57 333.3,381.69 334.3,381.81 335.3,381.93 336.3,382.07 337.3,382.22 338.3,382.37 339.3,382.53 340.3,382.69 341.3,382.85 342.3,383.01 343.3,383.16 344.3,383.30 345.3,383.43 346.3,383.55 347.3,383.65 348.3,383.76 349.3,383.86 350.3,383.97 351.3,384.07 352.3,384.17 353.3,384.26 354.3,384.34 355.3,384.42 356.3,384.49 357.3,384.55 358.3,384.59 359.3,384.63 360.3,384.66 361.3,384.69 362.3,384.71 363.3,384.74 364.3,384.76 365.3,384.78 366.3,384.80 367.3,384.81 368.3,384.83 369.3,384.84 370.3,384.85 371.3,384.85 372.3,384.84 373.3,384.80 374.3,384.73 375.3,384.62 376.3,384.48 377.3,384.31 378.3,384.12 379.3,383.91 380.3,383.69 381.3,383.45 382.3,383.20 383.3,382.95 384.3,382.70 385.3,382.42 386.3,382.09 387.3,381.71 388.3,381.28 389.3,380.82 390.3,380.33 391.3,379.81 392.3,379.27 393.3,378.72 394.3,378.16 395.3,377.59 396.3,377.04 397.3,376.48 398.3,375.91 399.3,375.30 400.3,374.66 401.3,374.01 402.3,373.35 403.3,372.69 404.3,372.04 405.3,371.41 406.3,370.80 407.3,370.19 408.3,369.54 409.3,368.87 410.3,368.22 411.3,367.59 412.3,367.01 413.3,366.51 414.3,366.10 415.3,365.81 416.3,365.58 417.3,365.36 418.3,365.17 419.3,364.99 420.3,364.83 421.3,364.68 422.3,364.56 423.3,364.45 424.3,364.35 425.3,364.27 426.3,364.19 427.3,364.12 428.3,364.04 429.3,363.98 430.3,363.91 431.3,363.85 432.3,363.80 433.3,363.75 434.3,363.71 435.3,363.68 436.3,363.66 437.3,363.65 438.3,363.65 439.3,363.66 440.3,363.67 441.3,363.68 442.3,363.70 443.3,363.73 444.3,363.76 445.3,363.79 446.3,363.83 447.3,363.88 448.3,363.92 449.3,363.97 450.3,364.02 451.3,364.09 452.3,364.19 453.3,364.33 454.3,364.50 455.3,364.70 456.3,364.93 457.3,365.18 458.3,365.46 459.3,365.89 460.3,366.44 461.3,367.05 462.3,367.63 463.3,368.17 464.3,368.71 465.3,369.25 466.3,369.80 467.3,370.36 468.3,370.95 469.3,371.58 470.3,372.24 471.3,372.97 472.3,373.78 473.3,374.66 474.3,375.59 475.3,376.55 476.3,377.54 477.3,378.53 478.3,379.49 479.3,380.43 480.3,381.31 481.3,382.14 482.3,382.97 483.3,383.79 484.3,384.60 485.3,385.39 486.3,386.17 487.3,386.92 488.3,387.63 489.3,388.31 490.3,388.95 491.3,389.54 492.3,390.13 493.3,390.70 494.3,391.25 495.3,391.78 496.3,392.29 497.3,392.77 498.3,393.21 499.3,393.61 500.3,393.96 501.3,394.27 502.3,394.55 503.3,394.81 504.3,395.06 505.3,395.29 506.3,395.50 507.3,395.70 508.3,395.89 509.3,396.07 510.3,396.24 511.3,396.40 512.3,396.54 513.3,396.68 514.3,396.80 515.3,396.91 516.3,397.02 517.3,397.14 518.3,397.26 519.3,397.38 520.3,397.52 521.3,397.68 522.3,397.86 523.3,398.04 524.3,398.24 525.3,398.46 526.3,398.68 527.3,398.92 528.3,399.16 529.3,399.42 530.3,399.70 531.3,399.98 532.3,400.30 533.3,400.65 534.3,401.05 535.3,401.46 536.3,401.89 537.3,402.32 538.3,402.74 539.3,403.15 540.3,403.53 541.3,403.87 542.3,404.19 543.3,404.51 544.3,404.82 545.3,405.13 546.3,405.42 547.3,405.70 548.3,405.97 549.3,406.22 550.3,406.45 551.3,406.66 552.3,406.86 553.3,407.04 554.3,407.22 555.3,407.39 556.3,407.56 557.3,407.71 558.3,407.86 559.3,408.01 560.3,408.14 561.3,408.27 562.3,408.40 563.3,408.51 564.3,408.63 565.3,408.73 566.3,408.84 567.3,408.94 568.3,409.03 569.3,409.12 570.3,409.21 571.3,409.29 572.3,409.38 573.3,409.46 574.3,409.53 575.3,409.61 576.3,409.68 577.3,409.75 578.3,409.82 579.3,409.89 580.3,409.95 581.3,410.01 582.3,410.07 583.3,410.13 584.3,410.19 585.3,410.25 586.3,410.30 587.3,410.36 588.3,410.42 589.3,410.47 590.3,410.53 591.3,410.58 592.3,410.64 593.3,410.69 594.3,410.74 595.3,410.80 596.3,410.85 597.3,410.90 598.3,410.96 599.3,411.01 600.3,411.07 601.3,411.13 602.3,411.19 603.3,411.25 604.3,411.31 605.3,411.38 606.3,411.44 607.3,411.51 608.3,411.58 609.3,411.65 610.3,411.72 611.3,411.79 612.3,411.86 613.3,411.93 614.3,412.01 615.3,412.08 616.3,412.15 617.3,412.23 618.3,412.31 619.3,412.38 620.3,412.46 621.3,412.54 622.3,412.62 623.3,412.71 624.3,412.79 625.3,412.88 626.3,412.96 627.3,413.05 628.3,413.14 629.3,413.23 630.3,413.32 631.3,413.42 632.3,413.51 633.3,413.60 634.3,413.69 635.3,413.78 636.3,413.87 637.3,413.97 638.3,414.06 639.3,414.15 640.3,414.24 641.3,414.32 642.3,414.41 643.3,414.50 644.3,414.59 645.3,414.68 646.3,414.77 647.3,414.86 648.3,414.95 649.3,415.04 650.3,415.13 651.3,415.22 652.3,415.31 653.3,415.39 654.3,415.48 655.3,415.57 656.3,415.66 657.3,415.74 658.3,415.83 659.3,415.91 660.3,416.00 661.3,416.08 662.3,416.16 663.3,416.25 664.3,416.34 665.3,416.42 666.3,416.51 667.3,416.60 668.3,416.68 669.3,416.77 670.3,416.85 671.3,416.93 672.3,417.02 673.3,417.10 674.3,417.17 675.3,417.25 676.3,417.32 677.3,417.39 678.3,417.46 679.3,417.52 680.3,417.58 681.3,417.63 682.3,417.69 683.3,417.75 684.3,417.80 685.3,417.85 686.3,417.90 687.3,417.95 688.3,417.99 689.3,418.02 690.3,418.04 691.3,418.06 692.3,418.07 693.3,418.08 694.3,418.09 695.3,418.10 696.3,418.11 697.3,418.12 698.3,418.13 699.3,418.14 700.3,418.15 701.3,418.15 702.3,418.16 703.3,418.17 704.3,418.17 705.3,418.18 706.3,418.18 707.3,418.19 708.3,418.19 709.3,418.20 710.3,418.20 711.3,418.21 712.3,418.21 713.3,418.22 714.3,418.22 715.3,418.23 716.3,418.23 717.3,418.23 718.3,418.24 719.3,418.24 720.3,418.25 721.3,418.25 722.3,418.26 723.3,418.26 724.3,418.26 725.3,418.27 726.3,418.27 727.3,418.27 728.3,418.28 729.3,418.28 730.3,418.28 731.3,418.29 732.3,418.29 733.3,418.29 734.3,418.29 735.3,418.29 736.3,418.30 737.3,418.30 738.3,418.30 739.3,418.30 L739.3,418.30 738.3,418.30 737.3,418.30 736.3,418.30 735.3,418.31 734.3,418.31 733.3,418.31 732.3,418.31 731.3,418.31 730.3,418.32 729.3,418.32 728.3,418.32 727.3,418.33 726.3,418.33 725.3,418.33 724.3,418.34 723.3,418.34 722.3,418.34 721.3,418.35 720.3,418.35 719.3,418.36 718.3,418.36 717.3,418.37 716.3,418.37 715.3,418.37 714.3,418.38 713.3,418.38 712.3,418.39 711.3,418.39 710.3,418.40 709.3,418.40 708.3,418.41 707.3,418.41 706.3,418.42 705.3,418.42 704.3,418.43 703.3,418.43 702.3,418.44 701.3,418.45 700.3,418.45 699.3,418.46 698.3,418.47 697.3,418.48 696.3,418.49 695.3,418.50 694.3,418.51 693.3,418.52 692.3,418.53 691.3,418.54 690.3,418.56 689.3,418.58 688.3,418.61 687.3,418.65 686.3,418.70 685.3,418.75 684.3,418.80 683.3,418.85 682.3,418.91 681.3,418.97 680.3,419.02 679.3,419.08 678.3,419.14 677.3,419.21 676.3,419.28 675.3,419.35 674.3,419.43 673.3,419.50 672.3,419.58 671.3,419.67 670.3,419.75 669.3,419.83 668.3,419.92 667.3,420.00 666.3,420.09 665.3,420.18 664.3,420.26 663.3,420.35 662.3,420.44 661.3,420.52 660.3,420.60 659.3,420.69 658.3,420.77 657.3,420.86 656.3,420.94 655.3,421.03 654.3,421.12 653.3,421.21 652.3,421.29 651.3,421.38 650.3,421.47 649.3,421.56 648.3,421.65 647.3,421.74 646.3,421.83 645.3,421.92 644.3,422.01 643.3,422.10 642.3,422.19 641.3,422.28 640.3,422.36 639.3,422.45 638.3,422.54 637.3,422.63 636.3,422.73 635.3,422.82 634.3,422.91 633.3,423.00 632.3,423.09 631.3,423.18 630.3,423.28 629.3,423.37 628.3,423.46 627.3,423.55 626.3,423.64 625.3,423.72 624.3,423.81 623.3,423.89 622.3,423.98 621.3,424.06 620.3,424.14 619.3,424.22 618.3,424.29 617.3,424.37 616.3,424.45 615.3,424.52 614.3,424.59 613.3,424.67 612.3,424.74 611.3,424.81 610.3,424.88 609.3,424.95 608.3,425.02 607.3,425.09 606.3,425.16 605.3,425.22 604.3,425.29 603.3,425.35 602.3,425.41 601.3,425.47 600.3,425.53 599.3,425.59 598.3,425.64 597.3,425.70 596.3,425.75 595.3,425.80 594.3,425.86 593.3,425.91 592.3,425.96 591.3,426.02 590.3,426.07 589.3,426.13 588.3,426.18 587.3,426.24 586.3,426.30 585.3,426.35 584.3,426.41 583.3,426.47 582.3,426.53 581.3,426.59 580.3,426.65 579.3,426.71 578.3,426.78 577.3,426.85 576.3,426.92 575.3,426.99 574.3,427.07 573.3,427.14 572.3,427.22 571.3,427.31 570.3,427.39 569.3,427.48 568.3,427.57 567.3,427.66 566.3,427.76 565.3,427.87 564.3,427.97 563.3,428.09 562.3,428.20 561.3,428.33 560.3,428.46 559.3,428.59 558.3,428.74 557.3,428.89 556.3,429.04 555.3,429.21 554.3,429.38 553.3,429.56 552.3,429.74 551.3,429.94 550.3,430.15 549.3,430.38 548.3,430.63 547.3,430.90 546.3,431.18 545.3,431.47 544.3,431.78 543.3,432.09 542.3,432.41 541.3,432.73 540.3,433.07 539.3,433.45 538.3,433.86 537.3,434.28 536.3,434.71 535.3,435.14 534.3,435.55 533.3,435.95 532.3,436.30 531.3,436.62 530.3,436.90 529.3,437.18 528.3,437.44 527.3,437.68 526.3,437.92 525.3,438.14 524.3,438.36 523.3,438.56 522.3,438.74 521.3,438.92 520.3,439.08 519.3,439.22 518.3,439.34 517.3,439.46 516.3,439.58 515.3,439.69 514.3,439.80 513.3,439.92 512.3,440.06 511.3,440.20 510.3,440.36 509.3,440.53 508.3,440.71 507.3,440.90 506.3,441.10 505.3,441.31 504.3,441.54 503.3,441.79 502.3,442.05 501.3,442.33 500.3,442.64 499.3,442.99 498.3,443.39 497.3,443.83 496.3,444.31 495.3,444.82 494.3,445.35 493.3,445.90 492.3,446.47 491.3,447.06 490.3,447.65 489.3,448.29 488.3,448.97 487.3,449.68 486.3,450.43 485.3,451.21 484.3,452.00 483.3,452.81 482.3,453.63 481.3,454.46 480.3,455.29 479.3,456.17 478.3,457.11 477.3,458.07 476.3,459.06 475.3,460.05 474.3,461.01 473.3,461.94 472.3,462.82 471.3,463.63 470.3,464.36 469.3,465.02 468.3,465.65 467.3,466.24 466.3,466.80 465.3,467.35 464.3,467.89 463.3,468.43 462.3,468.97 461.3,469.55 460.3,470.16 459.3,470.71 458.3,471.14 457.3,471.42 456.3,471.67 455.3,471.90 454.3,472.10 453.3,472.27 452.3,472.41 451.3,472.51 450.3,472.58 449.3,472.63 448.3,472.68 447.3,472.72 446.3,472.77 445.3,472.81 444.3,472.84 443.3,472.87 442.3,472.90 441.3,472.92 440.3,472.93 439.3,472.94 438.3,472.95 437.3,472.95 436.3,472.94 435.3,472.92 434.3,472.89 433.3,472.85 432.3,472.80 431.3,472.75 430.3,472.69 429.3,472.62 428.3,472.56 427.3,472.48 426.3,472.41 425.3,472.33 424.3,472.25 423.3,472.15 422.3,472.04 421.3,471.92 420.3,471.77 419.3,471.61 418.3,471.43 417.3,471.24 416.3,471.02 415.3,470.79 414.3,470.50 413.3,470.09 412.3,469.59 411.3,469.01 410.3,468.38 409.3,467.73 408.3,467.06 407.3,466.41 406.3,465.80 405.3,465.19 404.3,464.56 403.3,463.91 402.3,463.25 401.3,462.59 400.3,461.94 399.3,461.30 398.3,460.69 397.3,460.12 396.3,459.56 395.3,459.01 394.3,458.44 393.3,457.88 392.3,457.33 391.3,456.79 390.3,456.27 389.3,455.78 388.3,455.32 387.3,454.89 386.3,454.51 385.3,454.18 384.3,453.90 383.3,453.65 382.3,453.40 381.3,453.15 380.3,452.91 379.3,452.69 378.3,452.48 377.3,452.29 376.3,452.12 375.3,451.98 374.3,451.87 373.3,451.80 372.3,451.76 371.3,451.75 370.3,451.75 369.3,451.76 368.3,451.77 367.3,451.79 366.3,451.80 365.3,451.82 364.3,451.84 363.3,451.86 362.3,451.89 361.3,451.91 360.3,451.94 359.3,451.97 358.3,452.01 357.3,452.05 356.3,452.11 355.3,452.18 354.3,452.26 353.3,452.34 352.3,452.43 351.3,452.53 350.3,452.63 349.3,452.74 348.3,452.84 347.3,452.95 346.3,453.05 345.3,453.17 344.3,453.30 343.3,453.44 342.3,453.59 341.3,453.75 340.3,453.91 339.3,454.07 338.3,454.23 337.3,454.38 336.3,454.53 335.3,454.67 334.3,454.79 333.3,454.91 332.3,455.03 331.3,455.14 330.3,455.26 329.3,455.37 328.3,455.48 327.3,455.58 326.3,455.68 325.3,455.78 324.3,455.87 323.3,455.95 322.3,456.03 321.3,456.09 320.3,456.15 319.3,456.20 318.3,456.25 317.3,456.28 316.3,456.32 315.3,456.35 314.3,456.38 313.3,456.41 312.3,456.45 311.3,456.49 310.3,456.53 309.3,456.59 308.3,456.65 307.3,456.73 306.3,456.84 305.3,456.97 304.3,457.11 303.3,457.26 302.3,457.42 301.3,457.58 300.3,457.75 299.3,457.91 298.3,458.06 297.3,458.20 296.3,458.32 295.3,458.44 294.3,458.56 293.3,458.69 292.3,458.82 291.3,458.94 290.3,459.07 289.3,459.18 288.3,459.29 287.3,459.38 286.3,459.45 285.3,459.51 284.3,459.54 283.3,459.55 282.3,459.50 281.3,459.40 280.3,459.24 279.3,459.04 278.3,458.80 277.3,458.54 276.3,458.25 275.3,457.94 274.3,457.63 273.3,457.32 272.3,456.97 271.3,456.56 270.3,456.09 269.3,455.57 268.3,455.02 267.3,454.44 266.3,453.83 265.3,453.21 264.3,452.58 263.3,451.95 262.3,451.30 261.3,450.61 260.3,449.87 259.3,449.11 258.3,448.32 257.3,447.52 256.3,446.71 255.3,445.90 254.3,445.09 253.3,444.30 252.3,443.53 251.3,442.78 250.3,442.07 249.3,441.36 248.3,440.66 247.3,439.96 246.3,439.27 245.3,438.58 244.3,437.91 243.3,437.24 242.3,436.59 241.3,435.96 240.3,435.34 239.3,434.74 238.3,434.16 237.3,433.60 236.3,433.05 235.3,432.50 234.3,431.97 233.3,431.44 232.3,430.92 231.3,430.42 230.3,429.92 229.3,429.44 228.3,428.96 227.3,428.51 226.3,428.06 225.3,427.63 224.3,427.22 223.3,426.82 222.3,426.44 221.3,426.07 220.3,425.70 219.3,425.35 218.3,425.00 217.3,424.66 216.3,424.33 215.3,424.01 214.3,423.70 213.3,423.40 212.3,423.11 211.3,422.82 210.3,422.54 209.3,422.28 208.3,422.02 207.3,421.77 206.3,421.53 205.3,421.31 204.3,421.09 203.3,420.89 202.3,420.68 201.3,420.49 200.3,420.29 199.3,420.09 198.3,419.88 197.3,419.66 196.3,419.46 195.3,419.27 194.3,419.10 193.3,418.96 192.3,418.87 191.3,418.79 190.3,418.71 189.3,418.65 188.3,418.60 187.3,418.55 186.3,418.51 185.3,418.47 184.3,418.44 183.3,418.41 182.3,418.38 181.3,418.35 180.3,418.33 179.3,418.31 178.3,418.30 Z" fill="none" stroke="#000" stroke-width="1.7" stroke-linejoin="round"/>
<line x1="320.6" y1="380.46" x2="320.6" y2="456.14" stroke="#000" stroke-width="1.8" stroke-dasharray="1.65 1.6"/>
<line x1="406.1" y1="370.92" x2="406.1" y2="465.68" stroke="#000" stroke-width="1.8" stroke-dasharray="12.7 3.3" stroke-dashoffset="6.1"/>
<line x1="462.3" y1="367.63" x2="462.3" y2="468.97" stroke="#000" stroke-width="1.8" stroke-dasharray="1.65 1.6"/>
<g shape-rendering="crispEdges">
<rect x="167.81" y="554.18" width="3.50" height="0.42" fill="#afdbea"/>
<rect x="170.71" y="554.07" width="3.50" height="0.53" fill="#b5deec"/>
<rect x="173.62" y="553.92" width="3.50" height="0.68" fill="#bae0ed"/>
<rect x="176.52" y="553.62" width="3.50" height="0.98" fill="#bfe3ef"/>
<rect x="179.42" y="552.69" width="3.50" height="1.91" fill="#c5e6f0"/>
<rect x="182.33" y="551.71" width="3.50" height="2.89" fill="#cae8f2"/>
<rect x="185.23" y="550.84" width="3.50" height="3.76" fill="#cfebf3"/>
<rect x="188.14" y="549.72" width="3.50" height="4.88" fill="#d5eef5"/>
<rect x="191.04" y="547.96" width="3.50" height="6.64" fill="#daf0f6"/>
<rect x="193.94" y="545.79" width="3.50" height="8.81" fill="#e0f3f8"/>
<rect x="196.85" y="543.32" width="3.50" height="11.28" fill="#e3f4f3"/>
<rect x="199.75" y="540.56" width="3.50" height="14.04" fill="#e6f5ed"/>
<rect x="202.66" y="537.73" width="3.50" height="16.87" fill="#e9f7e7"/>
<rect x="205.56" y="534.72" width="3.50" height="19.88" fill="#ecf8e2"/>
<rect x="208.46" y="531.69" width="3.50" height="22.91" fill="#eff9dc"/>
<rect x="211.37" y="528.81" width="3.50" height="25.79" fill="#f2fad6"/>
<rect x="214.27" y="526.21" width="3.50" height="28.39" fill="#f6fbd0"/>
<rect x="217.18" y="523.67" width="3.50" height="30.93" fill="#f9fdcb"/>
<rect x="220.08" y="521.70" width="3.50" height="32.90" fill="#fcfec5"/>
<rect x="222.98" y="520.51" width="3.50" height="34.09" fill="#ffffbf"/>
<rect x="225.89" y="519.62" width="3.50" height="34.98" fill="#fffcba"/>
<rect x="228.79" y="519.38" width="3.50" height="35.22" fill="#fff9b6"/>
<rect x="231.70" y="520.20" width="3.50" height="34.40" fill="#fff6b1"/>
<rect x="234.60" y="521.51" width="3.50" height="33.09" fill="#fff3ac"/>
<rect x="237.51" y="522.71" width="3.50" height="31.89" fill="#feefa7"/>
<rect x="240.41" y="524.12" width="3.50" height="30.48" fill="#feeca3"/>
<rect x="243.31" y="525.24" width="3.50" height="29.36" fill="#fee99e"/>
<rect x="246.22" y="525.56" width="3.50" height="29.04" fill="#fee699"/>
<rect x="249.12" y="525.64" width="3.50" height="28.96" fill="#fee394"/>
<rect x="252.03" y="525.60" width="3.50" height="29.00" fill="#fee090"/>
<rect x="254.93" y="525.11" width="3.50" height="29.49" fill="#fedb8b"/>
<rect x="257.83" y="524.32" width="3.50" height="30.28" fill="#fed686"/>
<rect x="260.74" y="523.50" width="3.50" height="31.10" fill="#fed181"/>
<rect x="263.64" y="522.92" width="3.50" height="31.68" fill="#fecb7d"/>
<rect x="266.55" y="522.61" width="3.50" height="31.99" fill="#fdc678"/>
<rect x="269.45" y="522.38" width="3.50" height="32.22" fill="#fdc173"/>
<rect x="272.35" y="522.15" width="3.50" height="32.45" fill="#fdbc6e"/>
<rect x="275.26" y="521.83" width="3.50" height="32.77" fill="#fdb76a"/>
<rect x="278.16" y="521.26" width="3.50" height="33.34" fill="#fdb265"/>
<rect x="281.07" y="520.29" width="3.50" height="34.31" fill="#fdad61"/>
<rect x="283.97" y="519.02" width="3.50" height="35.58" fill="#fca65e"/>
<rect x="286.87" y="517.16" width="3.50" height="37.44" fill="#fba05a"/>
<rect x="289.78" y="514.75" width="3.50" height="39.85" fill="#fa9957"/>
<rect x="292.68" y="511.91" width="3.50" height="42.69" fill="#f99354"/>
<rect x="295.59" y="508.39" width="3.50" height="46.21" fill="#f88c51"/>
<rect x="298.49" y="505.30" width="3.50" height="49.30" fill="#f7864e"/>
<rect x="301.39" y="502.92" width="3.50" height="51.68" fill="#f77f4b"/>
<rect x="304.30" y="500.78" width="3.50" height="53.82" fill="#f67948"/>
<rect x="307.20" y="499.68" width="3.50" height="54.92" fill="#f57245"/>
<rect x="310.11" y="500.33" width="3.50" height="54.27" fill="#f36c42"/>
<rect x="313.01" y="502.19" width="3.50" height="52.41" fill="#f06540"/>
<rect x="315.91" y="504.41" width="3.50" height="50.19" fill="#ed5f3d"/>
<rect x="318.82" y="506.64" width="3.50" height="47.96" fill="#eb593a"/>
<rect x="321.72" y="507.92" width="3.50" height="46.68" fill="#e85337"/>
<rect x="324.63" y="509.05" width="3.50" height="45.55" fill="#e54d34"/>
<rect x="327.53" y="510.38" width="3.50" height="44.22" fill="#e24731"/>
<rect x="330.43" y="511.82" width="3.50" height="42.78" fill="#df402f"/>
<rect x="333.34" y="513.63" width="3.50" height="40.97" fill="#dc3a2c"/>
<rect x="336.24" y="516.13" width="3.50" height="38.47" fill="#d93429"/>
<rect x="339.15" y="519.69" width="3.50" height="34.91" fill="#d52e27"/>
<rect x="342.05" y="524.72" width="3.50" height="29.88" fill="#d02a27"/>
<rect x="344.95" y="530.00" width="3.50" height="24.60" fill="#cb2527"/>
<rect x="347.86" y="534.58" width="3.50" height="20.02" fill="#c62027"/>
<rect x="350.76" y="539.00" width="3.50" height="15.60" fill="#c11b27"/>
<rect x="353.67" y="542.63" width="3.50" height="11.97" fill="#bc1626"/>
<rect x="356.57" y="545.23" width="3.50" height="9.37" fill="#b71126"/>
<rect x="359.47" y="547.34" width="3.50" height="7.26" fill="#b20d26"/>
<rect x="362.38" y="548.73" width="3.50" height="5.87" fill="#ad0826"/>
<rect x="365.28" y="549.53" width="3.50" height="5.07" fill="#a80326"/>
<rect x="368.19" y="550.11" width="3.50" height="4.49" fill="#a50026"/>
<rect x="371.09" y="550.60" width="3.50" height="4.00" fill="#a50026"/>
<rect x="373.99" y="551.04" width="3.50" height="3.56" fill="#a50026"/>
<rect x="376.90" y="551.42" width="3.50" height="3.18" fill="#a50026"/>
<rect x="379.80" y="551.71" width="3.50" height="2.89" fill="#a50026"/>
<rect x="382.71" y="551.96" width="3.50" height="2.64" fill="#a50026"/>
<rect x="385.61" y="552.19" width="3.50" height="2.41" fill="#a50026"/>
<rect x="388.52" y="552.39" width="3.50" height="2.21" fill="#a50026"/>
<rect x="391.42" y="552.57" width="3.50" height="2.03" fill="#a50026"/>
<rect x="394.32" y="552.72" width="3.50" height="1.88" fill="#a50026"/>
<rect x="397.23" y="552.85" width="3.50" height="1.75" fill="#a50026"/>
<rect x="400.13" y="552.96" width="3.50" height="1.64" fill="#a50026"/>
<rect x="403.04" y="553.06" width="3.50" height="1.54" fill="#a50026"/>
<rect x="405.94" y="553.15" width="3.50" height="1.45" fill="#a50026"/>
<rect x="408.84" y="553.24" width="3.50" height="1.36" fill="#a50026"/>
<rect x="411.75" y="553.33" width="3.50" height="1.27" fill="#a50026"/>
<rect x="414.65" y="553.43" width="3.50" height="1.17" fill="#a50026"/>
<rect x="417.56" y="553.52" width="3.50" height="1.08" fill="#a50026"/>
<rect x="420.46" y="553.61" width="3.50" height="0.99" fill="#a50026"/>
<rect x="423.36" y="553.70" width="3.50" height="0.90" fill="#a50026"/>
<rect x="426.27" y="553.78" width="3.50" height="0.82" fill="#a50026"/>
<rect x="429.17" y="553.87" width="3.50" height="0.73" fill="#a50026"/>
<rect x="432.08" y="553.95" width="3.50" height="0.65" fill="#a50026"/>
<rect x="434.98" y="554.03" width="3.50" height="0.57" fill="#a50026"/>
<rect x="437.88" y="554.10" width="3.50" height="0.50" fill="#a50026"/>
<rect x="440.79" y="554.16" width="3.50" height="0.44" fill="#a50026"/>
<rect x="443.69" y="554.21" width="3.50" height="0.39" fill="#a50026"/>
<rect x="164.90" y="554.60" width="3.50" height="1.22" fill="#afdbea"/>
<rect x="167.81" y="554.60" width="3.50" height="1.33" fill="#b5deec"/>
<rect x="170.71" y="554.60" width="3.50" height="1.48" fill="#bae0ed"/>
<rect x="173.62" y="554.60" width="3.50" height="1.78" fill="#bfe3ef"/>
<rect x="176.52" y="554.60" width="3.50" height="2.71" fill="#c5e6f0"/>
<rect x="179.42" y="554.60" width="3.50" height="3.69" fill="#cae8f2"/>
<rect x="182.33" y="554.60" width="3.50" height="4.56" fill="#cfebf3"/>
<rect x="185.23" y="554.60" width="3.50" height="5.68" fill="#d5eef5"/>
<rect x="188.14" y="554.60" width="3.50" height="7.44" fill="#daf0f6"/>
<rect x="191.04" y="554.60" width="3.50" height="9.61" fill="#e0f3f8"/>
<rect x="193.94" y="554.60" width="3.50" height="12.08" fill="#e3f4f3"/>
<rect x="196.85" y="554.60" width="3.50" height="14.84" fill="#e6f5ed"/>
<rect x="199.75" y="554.60" width="3.50" height="17.67" fill="#e9f7e7"/>
<rect x="202.66" y="554.60" width="3.50" height="20.68" fill="#ecf8e2"/>
<rect x="205.56" y="554.60" width="3.50" height="23.71" fill="#eff9dc"/>
<rect x="208.46" y="554.60" width="3.50" height="26.59" fill="#f2fad6"/>
<rect x="211.37" y="554.60" width="3.50" height="29.19" fill="#f6fbd0"/>
<rect x="214.27" y="554.60" width="3.50" height="31.73" fill="#f9fdcb"/>
<rect x="217.18" y="554.60" width="3.50" height="33.70" fill="#fcfec5"/>
<rect x="220.08" y="554.60" width="3.50" height="34.89" fill="#ffffbf"/>
<rect x="222.98" y="554.60" width="3.50" height="35.78" fill="#fffcba"/>
<rect x="225.89" y="554.60" width="3.50" height="36.02" fill="#fff9b6"/>
<rect x="228.79" y="554.60" width="3.50" height="35.20" fill="#fff6b1"/>
<rect x="231.70" y="554.60" width="3.50" height="33.89" fill="#fff3ac"/>
<rect x="234.60" y="554.60" width="3.50" height="32.69" fill="#feefa7"/>
<rect x="237.51" y="554.60" width="3.50" height="31.28" fill="#feeca3"/>
<rect x="240.41" y="554.60" width="3.50" height="30.16" fill="#fee99e"/>
<rect x="243.31" y="554.60" width="3.50" height="29.84" fill="#fee699"/>
<rect x="246.22" y="554.60" width="3.50" height="29.76" fill="#fee394"/>
<rect x="249.12" y="554.60" width="3.50" height="29.80" fill="#fee090"/>
<rect x="252.03" y="554.60" width="3.50" height="30.29" fill="#fedb8b"/>
<rect x="254.93" y="554.60" width="3.50" height="31.08" fill="#fed686"/>
<rect x="257.83" y="554.60" width="3.50" height="31.90" fill="#fed181"/>
<rect x="260.74" y="554.60" width="3.50" height="32.48" fill="#fecb7d"/>
<rect x="263.64" y="554.60" width="3.50" height="32.79" fill="#fdc678"/>
<rect x="266.55" y="554.60" width="3.50" height="33.02" fill="#fdc173"/>
<rect x="269.45" y="554.60" width="3.50" height="33.25" fill="#fdbc6e"/>
<rect x="272.35" y="554.60" width="3.50" height="33.57" fill="#fdb76a"/>
<rect x="275.26" y="554.60" width="3.50" height="34.14" fill="#fdb265"/>
<rect x="278.16" y="554.60" width="3.50" height="35.11" fill="#fdad61"/>
<rect x="281.07" y="554.60" width="3.50" height="36.38" fill="#fca65e"/>
<rect x="283.97" y="554.60" width="3.50" height="38.24" fill="#fba05a"/>
<rect x="286.87" y="554.60" width="3.50" height="40.65" fill="#fa9957"/>
<rect x="289.78" y="554.60" width="3.50" height="43.49" fill="#f99354"/>
<rect x="292.68" y="554.60" width="3.50" height="47.01" fill="#f88c51"/>
<rect x="295.59" y="554.60" width="3.50" height="50.10" fill="#f7864e"/>
<rect x="298.49" y="554.60" width="3.50" height="52.48" fill="#f77f4b"/>
<rect x="301.39" y="554.60" width="3.50" height="54.62" fill="#f67948"/>
<rect x="304.30" y="554.60" width="3.50" height="55.72" fill="#f57245"/>
<rect x="307.20" y="554.60" width="3.50" height="55.07" fill="#f36c42"/>
<rect x="310.11" y="554.60" width="3.50" height="53.21" fill="#f06540"/>
<rect x="313.01" y="554.60" width="3.50" height="50.99" fill="#ed5f3d"/>
<rect x="315.91" y="554.60" width="3.50" height="48.76" fill="#eb593a"/>
<rect x="318.82" y="554.60" width="3.50" height="47.48" fill="#e85337"/>
<rect x="321.72" y="554.60" width="3.50" height="46.35" fill="#e54d34"/>
<rect x="324.63" y="554.60" width="3.50" height="45.02" fill="#e24731"/>
<rect x="327.53" y="554.60" width="3.50" height="43.58" fill="#df402f"/>
<rect x="330.43" y="554.60" width="3.50" height="41.77" fill="#dc3a2c"/>
<rect x="333.34" y="554.60" width="3.50" height="39.27" fill="#d93429"/>
<rect x="336.24" y="554.60" width="3.50" height="35.71" fill="#d52e27"/>
<rect x="339.15" y="554.60" width="3.50" height="30.68" fill="#d02a27"/>
<rect x="342.05" y="554.60" width="3.50" height="25.40" fill="#cb2527"/>
<rect x="344.95" y="554.60" width="3.50" height="20.82" fill="#c62027"/>
<rect x="347.86" y="554.60" width="3.50" height="16.40" fill="#c11b27"/>
<rect x="350.76" y="554.60" width="3.50" height="12.77" fill="#bc1626"/>
<rect x="353.67" y="554.60" width="3.50" height="10.17" fill="#b71126"/>
<rect x="356.57" y="554.60" width="3.50" height="8.06" fill="#b20d26"/>
<rect x="359.47" y="554.60" width="3.50" height="6.67" fill="#ad0826"/>
<rect x="362.38" y="554.60" width="3.50" height="5.87" fill="#a80326"/>
<rect x="365.28" y="554.60" width="3.50" height="5.29" fill="#a50026"/>
<rect x="368.19" y="554.60" width="3.50" height="4.80" fill="#a50026"/>
<rect x="371.09" y="554.60" width="3.50" height="4.36" fill="#a50026"/>
<rect x="373.99" y="554.60" width="3.50" height="3.98" fill="#a50026"/>
<rect x="376.90" y="554.60" width="3.50" height="3.69" fill="#a50026"/>
<rect x="379.80" y="554.60" width="3.50" height="3.44" fill="#a50026"/>
<rect x="382.71" y="554.60" width="3.50" height="3.21" fill="#a50026"/>
<rect x="385.61" y="554.60" width="3.50" height="3.01" fill="#a50026"/>
<rect x="388.52" y="554.60" width="3.50" height="2.83" fill="#a50026"/>
<rect x="391.42" y="554.60" width="3.50" height="2.68" fill="#a50026"/>
<rect x="394.32" y="554.60" width="3.50" height="2.55" fill="#a50026"/>
<rect x="397.23" y="554.60" width="3.50" height="2.44" fill="#a50026"/>
<rect x="400.13" y="554.60" width="3.50" height="2.34" fill="#a50026"/>
<rect x="403.04" y="554.60" width="3.50" height="2.25" fill="#a50026"/>
<rect x="405.94" y="554.60" width="3.50" height="2.16" fill="#a50026"/>
<rect x="408.84" y="554.60" width="3.50" height="2.07" fill="#a50026"/>
<rect x="411.75" y="554.60" width="3.50" height="1.97" fill="#a50026"/>
<rect x="414.65" y="554.60" width="3.50" height="1.88" fill="#a50026"/>
<rect x="417.56" y="554.60" width="3.50" height="1.79" fill="#a50026"/>
<rect x="420.46" y="554.60" width="3.50" height="1.70" fill="#a50026"/>
<rect x="423.36" y="554.60" width="3.50" height="1.62" fill="#a50026"/>
<rect x="426.27" y="554.60" width="3.50" height="1.53" fill="#a50026"/>
<rect x="429.17" y="554.60" width="3.50" height="1.45" fill="#a50026"/>
<rect x="432.08" y="554.60" width="3.50" height="1.37" fill="#a50026"/>
<rect x="434.98" y="554.60" width="3.50" height="1.30" fill="#a50026"/>
<rect x="437.88" y="554.60" width="3.50" height="1.24" fill="#a50026"/>
<rect x="440.79" y="554.60" width="3.50" height="1.19" fill="#a50026"/>
</g>
<path d="M162.0,555.00 163.0,554.99 164.0,554.98 165.0,554.96 166.0,554.94 167.0,554.91 168.0,554.87 169.0,554.84 170.0,554.80 171.0,554.76 172.0,554.71 173.0,554.66 174.0,554.59 175.0,554.50 176.0,554.40 177.0,554.22 178.0,553.92 179.0,553.55 180.0,553.17 181.0,552.82 182.0,552.51 183.0,552.21 184.0,551.92 185.0,551.61 186.0,551.28 187.0,550.91 188.0,550.48 189.0,549.96 190.0,549.36 191.0,548.69 192.0,547.97 193.0,547.22 194.0,546.45 195.0,545.65 196.0,544.79 197.0,543.88 198.0,542.94 199.0,541.98 200.0,541.03 201.0,540.07 202.0,539.09 203.0,538.08 204.0,537.05 205.0,536.01 206.0,534.96 207.0,533.91 208.0,532.86 209.0,531.84 210.0,530.84 211.0,529.86 212.0,528.93 213.0,528.04 214.0,527.16 215.0,526.26 216.0,525.37 217.0,524.51 218.0,523.72 219.0,523.02 220.0,522.44 221.0,522.00 222.0,521.60 223.0,521.21 224.0,520.85 225.0,520.54 226.0,520.29 227.0,520.13 228.0,520.05 229.0,520.10 230.0,520.31 231.0,520.63 232.0,521.03 233.0,521.48 234.0,521.94 235.0,522.38 236.0,522.77 237.0,523.18 238.0,523.65 239.0,524.13 240.0,524.62 241.0,525.09 242.0,525.51 243.0,525.85 244.0,526.10 245.0,526.22 246.0,526.26 247.0,526.29 248.0,526.31 249.0,526.33 250.0,526.35 251.0,526.35 252.0,526.30 253.0,526.19 254.0,526.02 255.0,525.80 256.0,525.54 257.0,525.26 258.0,524.97 259.0,524.68 260.0,524.40 261.0,524.13 262.0,523.90 263.0,523.71 264.0,523.57 265.0,523.46 266.0,523.36 267.0,523.27 268.0,523.19 269.0,523.12 270.0,523.04 271.0,522.97 272.0,522.88 273.0,522.79 274.0,522.69 275.0,522.56 276.0,522.42 277.0,522.23 278.0,522.00 279.0,521.71 280.0,521.38 281.0,521.01 282.0,520.61 283.0,520.17 284.0,519.71 285.0,519.15 286.0,518.50 287.0,517.77 288.0,516.97 289.0,516.13 290.0,515.26 291.0,514.37 292.0,513.37 293.0,512.24 294.0,511.04 295.0,509.80 296.0,508.59 297.0,507.46 298.0,506.44 299.0,505.59 300.0,504.78 301.0,503.94 302.0,503.13 303.0,502.36 304.0,501.67 305.0,501.09 306.0,500.66 307.0,500.41 308.0,500.36 309.0,500.57 310.0,500.98 311.0,501.54 312.0,502.19 313.0,502.88 314.0,503.54 315.0,504.29 316.0,505.19 317.0,506.09 318.0,506.86 319.0,507.43 320.0,507.91 321.0,508.33 322.0,508.72 323.0,509.10 324.0,509.49 325.0,509.91 326.0,510.37 327.0,510.83 328.0,511.30 329.0,511.78 330.0,512.28 331.0,512.83 332.0,513.43 333.0,514.09 334.0,514.83 335.0,515.66 336.0,516.59 337.0,517.61 338.0,518.77 339.0,520.17 340.0,521.76 341.0,523.50 342.0,525.33 343.0,527.18 344.0,529.02 345.0,530.78 346.0,532.40 347.0,533.93 348.0,535.50 349.0,537.06 350.0,538.58 351.0,540.04 352.0,541.39 353.0,542.61 354.0,543.66 355.0,544.58 356.0,545.45 357.0,546.27 358.0,547.04 359.0,547.74 360.0,548.35 361.0,548.88 362.0,549.30 363.0,549.63 364.0,549.91 365.0,550.17 366.0,550.39 367.0,550.59 368.0,550.78 369.0,550.95 370.0,551.12 371.0,551.29 372.0,551.45 373.0,551.60 374.0,551.75 375.0,551.88 376.0,552.01 377.0,552.13 378.0,552.23 379.0,552.33 380.0,552.43 381.0,552.52 382.0,552.60 383.0,552.69 384.0,552.77 385.0,552.85 386.0,552.92 387.0,552.99 388.0,553.06 389.0,553.13 390.0,553.19 391.0,553.25 392.0,553.30 393.0,553.36 394.0,553.41 395.0,553.45 396.0,553.50 397.0,553.54 398.0,553.58 399.0,553.62 400.0,553.66 401.0,553.69 402.0,553.72 403.0,553.76 404.0,553.79 405.0,553.82 406.0,553.85 407.0,553.88 408.0,553.91 409.0,553.95 410.0,553.98 411.0,554.01 412.0,554.04 413.0,554.07 414.0,554.11 415.0,554.14 416.0,554.17 417.0,554.20 418.0,554.23 419.0,554.26 420.0,554.30 421.0,554.33 422.0,554.36 423.0,554.39 424.0,554.42 425.0,554.44 426.0,554.47 427.0,554.50 428.0,554.53 429.0,554.56 430.0,554.59 431.0,554.62 432.0,554.65 433.0,554.68 434.0,554.70 435.0,554.73 436.0,554.75 437.0,554.78 438.0,554.80 439.0,554.82 440.0,554.84 441.0,554.86 442.0,554.88 443.0,554.90 444.0,554.92 445.0,554.93 446.0,554.95 447.0,554.97 448.0,554.98 449.0,554.99 449.5,555.00 L449.5,555.00 449.0,555.01 448.0,555.02 447.0,555.03 446.0,555.05 445.0,555.07 444.0,555.08 443.0,555.10 442.0,555.12 441.0,555.14 440.0,555.16 439.0,555.18 438.0,555.20 437.0,555.22 436.0,555.25 435.0,555.27 434.0,555.30 433.0,555.32 432.0,555.35 431.0,555.38 430.0,555.41 429.0,555.44 428.0,555.47 427.0,555.50 426.0,555.53 425.0,555.56 424.0,555.58 423.0,555.61 422.0,555.64 421.0,555.67 420.0,555.70 419.0,555.74 418.0,555.77 417.0,555.80 416.0,555.83 415.0,555.86 414.0,555.89 413.0,555.93 412.0,555.96 411.0,555.99 410.0,556.02 409.0,556.05 408.0,556.09 407.0,556.12 406.0,556.15 405.0,556.18 404.0,556.21 403.0,556.24 402.0,556.28 401.0,556.31 400.0,556.34 399.0,556.38 398.0,556.42 397.0,556.46 396.0,556.50 395.0,556.55 394.0,556.59 393.0,556.64 392.0,556.70 391.0,556.75 390.0,556.81 389.0,556.87 388.0,556.94 387.0,557.01 386.0,557.08 385.0,557.15 384.0,557.23 383.0,557.31 382.0,557.40 381.0,557.48 380.0,557.57 379.0,557.67 378.0,557.77 377.0,557.87 376.0,557.99 375.0,558.12 374.0,558.25 373.0,558.40 372.0,558.55 371.0,558.71 370.0,558.88 369.0,559.05 368.0,559.22 367.0,559.41 366.0,559.61 365.0,559.83 364.0,560.09 363.0,560.37 362.0,560.70 361.0,561.12 360.0,561.65 359.0,562.26 358.0,562.96 357.0,563.73 356.0,564.55 355.0,565.42 354.0,566.34 353.0,567.39 352.0,568.61 351.0,569.96 350.0,571.42 349.0,572.94 348.0,574.50 347.0,576.07 346.0,577.60 345.0,579.22 344.0,580.98 343.0,582.82 342.0,584.67 341.0,586.50 340.0,588.24 339.0,589.83 338.0,591.23 337.0,592.39 336.0,593.41 335.0,594.34 334.0,595.17 333.0,595.91 332.0,596.57 331.0,597.17 330.0,597.72 329.0,598.22 328.0,598.70 327.0,599.17 326.0,599.63 325.0,600.09 324.0,600.51 323.0,600.90 322.0,601.28 321.0,601.67 320.0,602.09 319.0,602.57 318.0,603.14 317.0,603.91 316.0,604.81 315.0,605.71 314.0,606.46 313.0,607.12 312.0,607.81 311.0,608.46 310.0,609.02 309.0,609.43 308.0,609.64 307.0,609.59 306.0,609.34 305.0,608.91 304.0,608.33 303.0,607.64 302.0,606.87 301.0,606.06 300.0,605.22 299.0,604.41 298.0,603.56 297.0,602.54 296.0,601.41 295.0,600.20 294.0,598.96 293.0,597.76 292.0,596.63 291.0,595.63 290.0,594.74 289.0,593.87 288.0,593.03 287.0,592.23 286.0,591.50 285.0,590.85 284.0,590.29 283.0,589.83 282.0,589.39 281.0,588.99 280.0,588.62 279.0,588.29 278.0,588.00 277.0,587.77 276.0,587.58 275.0,587.44 274.0,587.31 273.0,587.21 272.0,587.12 271.0,587.03 270.0,586.96 269.0,586.88 268.0,586.81 267.0,586.73 266.0,586.64 265.0,586.54 264.0,586.43 263.0,586.29 262.0,586.10 261.0,585.87 260.0,585.60 259.0,585.32 258.0,585.03 257.0,584.74 256.0,584.46 255.0,584.20 254.0,583.98 253.0,583.81 252.0,583.70 251.0,583.65 250.0,583.65 249.0,583.67 248.0,583.69 247.0,583.71 246.0,583.74 245.0,583.78 244.0,583.90 243.0,584.15 242.0,584.49 241.0,584.91 240.0,585.38 239.0,585.87 238.0,586.35 237.0,586.82 236.0,587.23 235.0,587.62 234.0,588.06 233.0,588.52 232.0,588.97 231.0,589.37 230.0,589.69 229.0,589.90 228.0,589.95 227.0,589.87 226.0,589.71 225.0,589.46 224.0,589.15 223.0,588.79 222.0,588.40 221.0,588.00 220.0,587.56 219.0,586.98 218.0,586.28 217.0,585.49 216.0,584.63 215.0,583.74 214.0,582.84 213.0,581.96 212.0,581.07 211.0,580.14 210.0,579.16 209.0,578.16 208.0,577.14 207.0,576.09 206.0,575.04 205.0,573.99 204.0,572.95 203.0,571.92 202.0,570.91 201.0,569.93 200.0,568.97 199.0,568.02 198.0,567.06 197.0,566.12 196.0,565.21 195.0,564.35 194.0,563.55 193.0,562.78 192.0,562.03 191.0,561.31 190.0,560.64 189.0,560.04 188.0,559.52 187.0,559.09 186.0,558.72 185.0,558.39 184.0,558.08 183.0,557.79 182.0,557.49 181.0,557.18 180.0,556.83 179.0,556.45 178.0,556.08 177.0,555.78 176.0,555.60 175.0,555.50 174.0,555.41 173.0,555.34 172.0,555.29 171.0,555.24 170.0,555.20 169.0,555.16 168.0,555.13 167.0,555.09 166.0,555.06 165.0,555.04 164.0,555.02 163.0,555.01 162.0,555.00 Z" fill="none" stroke="#000" stroke-width="1.7" stroke-linejoin="round"/>
<line x1="245.1" y1="526.22" x2="245.1" y2="583.78" stroke="#000" stroke-width="1.8" stroke-dasharray="1.65 1.6"/>
<line x1="291.0" y1="514.37" x2="291.0" y2="595.63" stroke="#000" stroke-width="1.8" stroke-dasharray="12.7 3.3" stroke-dashoffset="6.1"/>
<line x1="318.3" y1="507.05" x2="318.3" y2="602.95" stroke="#000" stroke-width="1.8" stroke-dasharray="1.65 1.6"/>
<rect x="79.0" y="76.0" width="766.0" height="547.6" fill="none" stroke="#1a1a1a" stroke-width="1.5"/>
<line x1="79.0" y1="623.6" x2="79.0" y2="634.0" stroke="#1a1a1a" stroke-width="1.5"/>
<text class="tk" x="79.0" y="663" text-anchor="middle">0</text>
<line x1="232.2" y1="623.6" x2="232.2" y2="634.0" stroke="#1a1a1a" stroke-width="1.5"/>
<text class="tk" x="232.2" y="663" text-anchor="middle">5</text>
<line x1="385.4" y1="623.6" x2="385.4" y2="634.0" stroke="#1a1a1a" stroke-width="1.5"/>
<text class="tk" x="385.4" y="663" text-anchor="middle">10</text>
<line x1="538.6" y1="623.6" x2="538.6" y2="634.0" stroke="#1a1a1a" stroke-width="1.5"/>
<text class="tk" x="538.6" y="663" text-anchor="middle">15</text>
<line x1="691.8" y1="623.6" x2="691.8" y2="634.0" stroke="#1a1a1a" stroke-width="1.5"/>
<text class="tk" x="691.8" y="663" text-anchor="middle">20</text>
<line x1="845.0" y1="623.6" x2="845.0" y2="634.0" stroke="#1a1a1a" stroke-width="1.5"/>
<text class="tk" x="845.0" y="663" text-anchor="middle">25</text>
<line x1="67.6" y1="144.0" x2="79.0" y2="144.0" stroke="#1a1a1a" stroke-width="1.5"/>
<text class="tk" x="54.5" y="151.3" text-anchor="end">1</text>
<line x1="67.6" y1="281.0" x2="79.0" y2="281.0" stroke="#1a1a1a" stroke-width="1.5"/>
<text class="tk" x="54.5" y="288.3" text-anchor="end">2</text>
<line x1="67.6" y1="417.9" x2="79.0" y2="417.9" stroke="#1a1a1a" stroke-width="1.5"/>
<text class="tk" x="54.5" y="425.2" text-anchor="end">3</text>
<line x1="67.6" y1="554.7" x2="79.0" y2="554.7" stroke="#1a1a1a" stroke-width="1.5"/>
<text class="tk" x="54.5" y="562.0" text-anchor="end">4</text>
<rect x="877.6" y="77.3" width="27.5" height="545.2" fill="url(#cb)" stroke="#1a1a1a" stroke-width="1.4"/>
<line x1="877.6" y1="349.9" x2="905.1" y2="349.9" stroke="#000" stroke-width="1.8" stroke-dasharray="1.65 1.65"/>
<line x1="905.1" y1="622.5" x2="914.4" y2="622.5" stroke="#1a1a1a" stroke-width="1.5"/>
<text class="tk" x="926.8" y="629.8">0</text>
<line x1="905.1" y1="506.5" x2="914.4" y2="506.5" stroke="#1a1a1a" stroke-width="1.5"/>
<text class="tk" x="926.8" y="513.8">2</text>
<line x1="905.1" y1="390.5" x2="914.4" y2="390.5" stroke="#1a1a1a" stroke-width="1.5"/>
<text class="tk" x="926.8" y="397.8">4</text>
<line x1="905.1" y1="274.5" x2="914.4" y2="274.5" stroke="#1a1a1a" stroke-width="1.5"/>
<text class="tk" x="926.8" y="281.8">6</text>
<line x1="905.1" y1="158.5" x2="914.4" y2="158.5" stroke="#1a1a1a" stroke-width="1.5"/>
<text class="tk" x="926.8" y="165.8">8</text>
<line x1="76.5" y1="11.5" x2="102.4" y2="11.5" stroke="#ffa500" stroke-width="1.9"/>
<line x1="76.5" y1="48.8" x2="102.4" y2="48.8" stroke="#008000" stroke-width="1.9"/>
<text class="lab" x="116.0" y="21.0" textLength="383.6" lengthAdjust="spacingAndGlyphs">Cost if produced in Rotterdam</text>
<text class="lab" x="116.5" y="57.7" textLength="299.2" lengthAdjust="spacingAndGlyphs">Lowest European LCOH</text>
<text class="lab" x="327.7" y="707.6" textLength="268.3" lengthAdjust="spacingAndGlyphs">Cost (LCOH in € kg<tspan dy="-13" font-size="17"><tspan letter-spacing="-1.8">−</tspan>1</tspan><tspan dy="13">)</tspan></text>
<text class="lab" transform="translate(20.7 406) rotate(-90)" textLength="111.5" lengthAdjust="spacingAndGlyphs">Scenario</text>
<text class="lab" transform="translate(965.2 216.2) rotate(90)" textLength="268.3" lengthAdjust="spacingAndGlyphs">Cost (LCOH in € kg<tspan dy="-13" font-size="17"><tspan letter-spacing="-1.8">−</tspan>1</tspan><tspan dy="13">)</tspan></text>
</svg></body></html>
